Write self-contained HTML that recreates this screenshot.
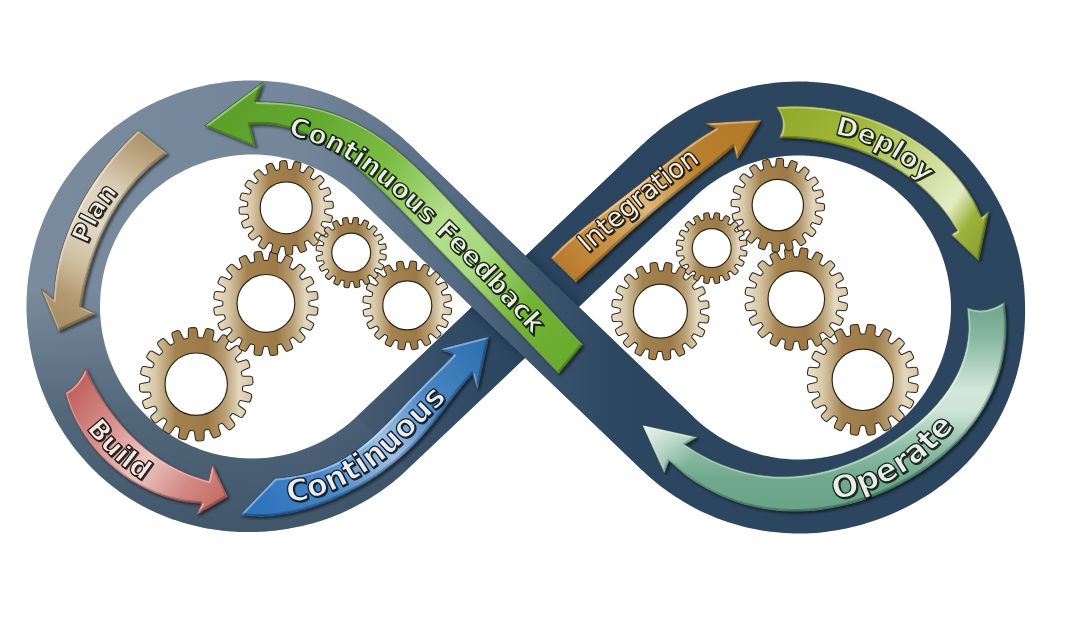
<!DOCTYPE html>
<html lang="en"><head><meta charset="utf-8"><title>DevOps infinity loop</title>
<style>html,body{margin:0;padding:0;background:#fff;width:1068px;height:641px;overflow:hidden}svg{display:block}text{font-family:"DejaVu Sans", "Liberation Sans", sans-serif;font-weight:bold}</style></head><body>
<svg width="1068" height="641" viewBox="0 0 1068 641">
<defs>
<linearGradient id="gBand" gradientUnits="userSpaceOnUse" x1="26" y1="0" x2="640" y2="0"><stop offset="0" stop-color="#7a8b9d"/><stop offset="0.45" stop-color="#73869a"/><stop offset="0.69" stop-color="#566c84"/><stop offset="0.835" stop-color="#3c556d"/><stop offset="0.95" stop-color="#2e4862"/><stop offset="1" stop-color="#2c4660"/></linearGradient>
<linearGradient id="gDark" gradientUnits="userSpaceOnUse" x1="0" y1="290" x2="0" y2="535"><stop offset="0" stop-color="#1c3448" stop-opacity="0"/><stop offset="0.5" stop-color="#1c3448" stop-opacity="0.4"/><stop offset="1" stop-color="#1c3448" stop-opacity="0.6"/></linearGradient>
<linearGradient id="gInt" gradientUnits="userSpaceOnUse" x1="382" y1="443.1" x2="668.8" y2="170.5"><stop offset="0" stop-color="#2b4560" stop-opacity="0.15"/><stop offset="0.3" stop-color="#2b4560" stop-opacity="0.78"/><stop offset="0.5" stop-color="#2b4560" stop-opacity="0.95"/><stop offset="1" stop-color="#2b4560" stop-opacity="1"/></linearGradient>
<linearGradient id="gGear" x1="0" y1="0" x2="1" y2="0"><stop offset="0" stop-color="#ece3cd"/><stop offset="0.14" stop-color="#d7c8a8"/><stop offset="0.32" stop-color="#a3824f"/><stop offset="0.6" stop-color="#9b7a47"/><stop offset="0.75" stop-color="#b89e72"/><stop offset="0.88" stop-color="#e3d8c0"/><stop offset="1" stop-color="#d6c6a4"/></linearGradient>
<path id="a_plan" d="M138.3 130.2 C138.3 130.2 129.1 139.2 124.7 143.8 C120.2 148.6 115.9 153.4 111.8 158.4 C107.7 163.4 103.7 168.5 99.9 173.8 C96.1 179.1 92.4 184.5 89 190 C85.5 195.5 82.3 201.1 79.3 206.9 C76.3 212.6 73.5 218.4 70.9 224.4 C68.4 230.3 66.1 236.4 64.1 242.5 C62 248.6 60.3 254.8 58.8 261.1 C57.3 267.4 56.1 273.8 55.3 280.2 C54.4 286.6 53.7 299.6 53.7 299.6 L41 288.9 L58.4 330.9 L95.8 313.6 L81 307 C81 307 83.2 293.8 84.6 287.3 C86 280.7 87.7 274.2 89.6 267.7 C91.5 261.3 93.6 254.9 96 248.6 C98.3 242.3 101 236.1 103.9 230 C106.7 224 109.9 218.1 113.3 212.3 C116.7 206.6 120.3 201 124.3 195.6 C128.2 190.2 132.4 185 136.9 180 C141.4 175.1 146.2 170.3 151.2 165.9 C156.3 161.5 167.3 153.4 167.3 153.4Z"/><clipPath id="c_plan"><use href="#a_plan"/></clipPath>
<linearGradient id="g_plan" gradientUnits="userSpaceOnUse" x1="152.8" y1="141.8" x2="58.4" y2="330.9"><stop offset="0" stop-color="#ad956b"/><stop offset="0.12" stop-color="#bfab88"/><stop offset="0.3" stop-color="#ded3bc"/><stop offset="0.5" stop-color="#e0d6c2"/><stop offset="0.68" stop-color="#cdbd9e"/><stop offset="0.82" stop-color="#b39c74"/><stop offset="1" stop-color="#a48c62"/></linearGradient>
<path id="a_build" d="M85.9 368.4 C85.9 368.4 90.7 378.8 93.4 383.9 C96.1 389 99 394 102.1 398.9 C105.2 403.7 108.4 408.5 111.8 413.1 C115.3 417.7 118.9 422.2 122.7 426.5 C126.5 430.7 130.4 434.9 134.5 438.8 C138.7 442.8 143 446.5 147.4 450.1 C151.9 453.6 156.5 456.9 161.3 460 C166.1 463.1 171.1 466 176.2 468.6 C181.3 471.2 186.5 473.5 191.9 475.6 C197.4 477.6 208.6 480.9 208.6 480.9 L212.4 464.6 L227.3 496.8 L196.4 514.6 L202.1 503.3 C202.1 503.3 189.7 502.4 183.6 501.3 C177.5 500.2 171.4 498.6 165.5 496.7 C159.6 494.8 153.7 492.4 148.1 489.8 C142.4 487.1 136.9 484.1 131.5 480.7 C126.2 477.4 121.1 473.7 116.2 469.7 C111.3 465.8 106.6 461.5 102.2 457 C97.9 452.5 93.7 447.7 89.9 442.7 C86.1 437.8 82.6 432.5 79.5 427.1 C76.4 421.8 73.6 416.1 71.2 410.4 C68.8 404.7 65.3 392.7 65.3 392.7 Q78.1 386 85.9 368.4Z"/><clipPath id="c_build"><use href="#a_build"/></clipPath>
<linearGradient id="g_build" gradientUnits="userSpaceOnUse" x1="75.6" y1="380.5" x2="227.3" y2="496.8"><stop offset="0" stop-color="#bf5f5b"/><stop offset="0.25" stop-color="#d48a86"/><stop offset="0.55" stop-color="#ecc6c2"/><stop offset="0.8" stop-color="#d28882"/><stop offset="1" stop-color="#c46c66"/></linearGradient>
<path id="a_cont" d="M274.9 478.4 C274.9 478.4 284.5 477.5 289.4 476.8 C294.3 476.1 299.3 475.2 304.2 474 C309.1 472.9 314 471.5 318.8 469.9 C323.6 468.2 328.3 466.3 332.8 464.2 C337.3 462.1 341.7 459.7 346 457.2 C350.2 454.6 354.3 451.8 358.3 448.9 C362.3 445.9 366.2 442.8 369.9 439.6 C373.7 436.3 377.3 432.9 380.9 429.5 C384.4 426 387.9 422.4 391.4 418.9 C394.9 415.3 398.3 411.6 401.7 408 C405.1 404.4 408.6 400.8 412 397.1 C415.4 393.5 418.9 389.9 422.4 386.4 C425.9 382.8 429.4 379.3 432.9 375.8 C436.4 372.2 440 368.8 443.5 365.2 C447 361.7 453.9 354.5 453.9 354.5 L439.9 349 L488.6 336.5 L477.3 389.3 L472.7 373.4 C472.7 373.4 465.7 381.3 462.4 385.4 C459 389.5 455.8 393.8 452.6 398 C449.4 402.2 446.2 406.5 443 410.7 C439.7 414.9 436.5 419.1 433.2 423.2 C429.8 427.3 426.4 431.4 422.9 435.3 C419.4 439.2 415.8 443.1 412 446.8 C408.3 450.5 404.4 454.1 400.5 457.6 C396.5 461 392.4 464.4 388.2 467.5 C384 470.7 379.7 473.8 375.3 476.7 C370.9 479.7 366.3 482.4 361.7 485.1 C357.1 487.7 352.4 490.2 347.6 492.6 C342.9 495 338 497.2 333.1 499.3 C328.2 501.3 323.3 503.3 318.3 505 C313.3 506.8 308.2 508.4 303.1 509.7 C298.1 511.1 292.9 512.4 287.8 513.3 C282.6 514.3 277.5 515.1 272.2 515.6 C267 516 261.7 516.3 256.5 516.1 C251.1 516 240.3 514.6 240.3 514.6Z"/><clipPath id="c_cont"><use href="#a_cont"/></clipPath>
<linearGradient id="g_cont" gradientUnits="userSpaceOnUse" x1="257.6" y1="496.5" x2="488.6" y2="336.5"><stop offset="0" stop-color="#2f74bc"/><stop offset="0.22" stop-color="#4785c6"/><stop offset="0.48" stop-color="#a0c0e2"/><stop offset="0.7" stop-color="#4a86c4"/><stop offset="1" stop-color="#2c6cab"/></linearGradient>
<path id="a_int" d="M551 257.7 C551 257.7 559.1 249.3 563.4 245.3 C567.7 241.3 572.1 237.5 576.5 233.8 C581 230 585.5 226.4 590.1 222.8 C594.7 219.2 599.3 215.6 603.9 212 C608.5 208.5 613.1 204.9 617.7 201.3 C622.3 197.8 626.9 194.2 631.5 190.6 C636.1 187 640.7 183.4 645.3 179.8 C649.8 176.1 654.4 172.5 658.9 168.8 C663.5 165.2 668.1 161.6 672.7 158 C677.3 154.5 681.9 150.9 686.6 147.5 C691.3 144 696 140.6 700.9 137.5 C705.8 134.3 715.9 128.4 715.9 128.4 L705.2 123.3 L760.8 120 L737 158.9 L733.9 146.2 C733.9 146.2 724.3 154.4 719.5 158.4 C714.6 162.4 709.7 166.4 704.7 170.3 C699.8 174.3 694.8 178.2 689.9 182.1 C685 186.1 680 190 675.1 194 C670.2 198 665.3 202 660.5 206 C655.6 210 650.8 214.1 646 218.3 C641.2 222.4 636.4 226.5 631.7 230.7 C627 235 622.3 239.2 617.6 243.5 C613 247.7 608.4 252.1 603.7 256.4 C599.1 260.7 594.5 265 589.8 269.3 C585.2 273.6 575.9 282.1 575.9 282.1Z"/><clipPath id="c_int"><use href="#a_int"/></clipPath>
<linearGradient id="g_int" gradientUnits="userSpaceOnUse" x1="563.5" y1="269.9" x2="760.8" y2="120"><stop offset="0" stop-color="#b87a2a"/><stop offset="0.22" stop-color="#c8934a"/><stop offset="0.42" stop-color="#dcb87c"/><stop offset="0.68" stop-color="#b98030"/><stop offset="1" stop-color="#b27828"/></linearGradient>
<path id="a_dep" d="M776.4 106.9 C776.4 106.9 788.9 106.2 795.2 106.2 C801.5 106.2 807.9 106.5 814.2 107.1 C820.6 107.6 827 108.4 833.3 109.5 C839.6 110.6 846 111.9 852.2 113.5 C858.4 115.1 864.6 117 870.7 119.1 C876.8 121.2 882.8 123.5 888.7 126.2 C894.5 128.8 900.3 131.6 905.8 134.7 C911.4 137.9 916.8 141.2 922 144.8 C927.2 148.5 932.3 152.3 937.1 156.4 C941.9 160.5 946.5 164.9 950.8 169.5 C955.1 174.1 959.1 178.9 962.9 184 C966.6 189.1 970.1 194.4 973.2 200 C976.4 205.6 981.6 217.4 981.6 217.4 L988.6 211.2 L978.5 260.3 L951.2 234.6 L957.4 230.7 C957.4 230.7 951.6 221.3 948.4 216.8 C945.2 212.4 941.9 208.1 938.3 204.1 C934.8 200 931 196.1 927.1 192.4 C923.2 188.7 919.2 185.1 915 181.8 C910.8 178.5 906.5 175.3 902 172.3 C897.6 169.4 893 166.6 888.3 164 C883.6 161.4 878.8 159 873.9 156.8 C869 154.6 864 152.6 858.9 150.7 C853.9 148.9 848.7 147.3 843.5 145.8 C838.3 144.4 833 143.1 827.7 142.1 C822.4 141 817.1 140.1 811.7 139.5 C806.3 138.8 800.9 138.3 795.5 138.1 C790.1 137.8 779.2 137.8 779.2 137.8 Q787.8 122.6 776.4 106.9Z"/><clipPath id="c_dep"><use href="#a_dep"/></clipPath>
<linearGradient id="g_dep" gradientUnits="userSpaceOnUse" x1="777.8" y1="122.4" x2="978.5" y2="260.3"><stop offset="0" stop-color="#93a92b"/><stop offset="0.3" stop-color="#a1b83c"/><stop offset="0.6" stop-color="#cddc98"/><stop offset="0.78" stop-color="#e2ecc4"/><stop offset="0.88" stop-color="#9cb23c"/><stop offset="1" stop-color="#86a030"/></linearGradient>
<path id="a_op" d="M1004.2 302.2 C1004.2 302.2 1005.9 317.9 1005.9 325.8 C1005.9 333.7 1005.4 341.8 1004.2 349.6 C1003.1 357.4 1001.4 365.2 999.2 372.7 C996.9 380.2 994.1 387.6 990.8 394.7 C987.4 401.7 983.6 408.6 979.3 415.1 C975 421.6 970.2 427.8 965.1 433.7 C959.9 439.7 954.4 445.3 948.5 450.6 C942.7 455.9 936.5 460.8 930.1 465.5 C923.6 470.2 916.9 474.5 910.1 478.5 C903.2 482.5 896.1 486.2 888.9 489.5 C881.7 492.8 874.3 495.8 866.8 498.4 C859.4 501 851.8 503.3 844.1 505.1 C836.5 507 828.7 508.4 821 509.4 C813.3 510.4 805.4 511 797.7 511.1 C789.9 511.2 782 510.8 774.3 509.9 C766.5 509.1 758.7 507.7 751.1 505.8 C743.5 504 735.8 501.6 728.5 498.7 C721.1 495.8 713.7 492.4 706.8 488.5 C699.8 484.7 693 480.4 686.6 475.7 C680.4 471 669 460.6 669 460.6 L664.3 472.7 L642.8 425.4 L697.1 437.2 L684.6 444.6 C684.6 444.6 696.2 452 702.3 455.3 C708.6 458.7 715.2 461.9 721.9 464.6 C728.7 467.3 735.6 469.6 742.6 471.4 C749.6 473.2 756.7 474.6 763.8 475.4 C770.8 476.3 777.9 476.7 784.9 476.6 C792 476.5 799 475.9 806 474.9 C812.9 473.9 819.8 472.5 826.7 470.7 C833.5 469 840.3 466.8 846.9 464.3 C853.6 461.8 860.2 459 866.7 455.9 C873.1 452.8 879.5 449.4 885.7 445.8 C891.9 442.1 897.9 438.2 903.7 434 C909.5 429.8 915.2 425.4 920.5 420.6 C925.8 415.9 930.9 410.9 935.6 405.7 C940.2 400.4 944.6 394.9 948.5 389.1 C952.3 383.2 955.8 377.1 958.7 370.8 C961.5 364.4 963.9 357.7 965.5 350.9 C967.2 344 968.2 336.9 968.5 329.7 C968.8 322.5 967.1 307.8 967.1 307.8 Q985.5 315 1004.2 302.2Z"/><clipPath id="c_op"><use href="#a_op"/></clipPath>
<linearGradient id="g_op" gradientUnits="userSpaceOnUse" x1="0" y1="300" x2="0" y2="512"><stop offset="0" stop-color="#6ba388"/><stop offset="0.18" stop-color="#88b8a0"/><stop offset="0.42" stop-color="#d2e6dc"/><stop offset="0.52" stop-color="#cfe4d9"/><stop offset="0.7" stop-color="#8cbca4"/><stop offset="0.85" stop-color="#6fa88d"/><stop offset="1" stop-color="#68a388"/></linearGradient>
<path id="a_fb" d="M558.8 373.2 C558.8 373.2 549.7 364 545.2 359.4 C540.7 354.7 536.2 350.1 531.8 345.4 C527.3 340.7 522.9 336 518.4 331.4 C514 326.7 509.5 322 505 317.4 C500.5 312.7 496 308.1 491.5 303.4 C487 298.8 482.5 294.2 478 289.6 C473.5 284.9 468.9 280.3 464.4 275.7 C459.9 271.1 455.4 266.4 450.9 261.8 C446.4 257.1 441.9 252.5 437.4 247.9 C433 243.2 428.5 238.5 424 233.9 C419.6 229.2 415.1 224.5 410.7 219.9 C406.2 215.2 401.7 210.6 397.2 206 C392.7 201.3 388.1 196.7 383.5 192.2 C378.9 187.7 374.3 183.1 369.5 178.8 C364.8 174.4 360 170 355 165.9 C350 161.8 345 157.7 339.7 154 C334.5 150.2 329.1 146.6 323.6 143.3 C318.1 140 312.4 137 306.5 134.4 C300.6 131.8 294.6 129.5 288.4 127.8 C282.2 126.1 275.8 124.8 269.3 124.2 C262.8 123.6 249.6 124.3 249.6 124.3 L255.2 146.4 L204.6 125.8 L262.7 82.2 L255.9 101.8 C255.9 101.8 268.4 102 274.7 102.4 C281.1 102.8 287.6 103.4 294 104.2 C300.4 105.1 306.8 106.2 313.1 107.7 C319.3 109.1 325.6 110.8 331.6 112.9 C337.7 114.9 343.6 117.3 349.4 120 C355.2 122.6 360.8 125.6 366.3 128.8 C371.7 132 377 135.5 382.2 139.1 C387.4 142.8 392.5 146.7 397.4 150.7 C402.3 154.7 407.1 158.9 411.8 163.3 C416.5 167.6 421.1 172 425.7 176.5 C430.3 181 434.7 185.6 439.1 190.3 C443.6 194.9 448 199.6 452.3 204.2 C456.7 208.9 461 213.6 465.3 218.3 C469.7 223 474 227.7 478.3 232.4 C482.6 237.1 486.9 241.8 491.3 246.4 C495.6 251.1 499.9 255.8 504.3 260.4 C508.6 265.1 513 269.7 517.3 274.4 C521.7 279.1 526.1 283.7 530.4 288.4 C534.8 293.1 539.1 297.8 543.5 302.5 C547.9 307.1 552.2 311.9 556.6 316.6 C560.9 321.3 565.2 326 569.6 330.7 C573.9 335.3 582.6 344.6 582.6 344.6Z"/><clipPath id="c_fb"><use href="#a_fb"/></clipPath>
<linearGradient id="g_fb" gradientUnits="userSpaceOnUse" x1="570.7" y1="358.9" x2="204.6" y2="125.8"><stop offset="0" stop-color="#6aac2e"/><stop offset="0.15" stop-color="#72b236"/><stop offset="0.3" stop-color="#a8d880"/><stop offset="0.42" stop-color="#b4de8c"/><stop offset="0.6" stop-color="#7cbc44"/><stop offset="0.8" stop-color="#62a830"/><stop offset="1" stop-color="#5c9e2a"/></linearGradient>
<filter id="sh" x="-20%" y="-20%" width="140%" height="140%"><feGaussianBlur in="SourceAlpha" stdDeviation="1.6"/><feOffset dx="1.5" dy="2"/><feComponentTransfer><feFuncA type="linear" slope="0.55"/></feComponentTransfer><feMerge><feMergeNode/><feMergeNode in="SourceGraphic"/></feMerge></filter>
<filter id="tsh" x="-5%" y="-20%" width="110%" height="140%"><feMorphology in="SourceAlpha" operator="dilate" radius="0.25" result="d"/><feOffset in="d" dx="0.8" dy="0.9" result="o"/><feFlood flood-color="#0c140c" flood-opacity="0.85"/><feComposite in2="o" operator="in"/><feMerge><feMergeNode/><feMergeNode in="SourceGraphic"/></feMerge></filter>
<filter id="blur6" x="-30%" y="-30%" width="160%" height="160%"><feGaussianBlur stdDeviation="6"/></filter>
<filter id="shT" x="-10%" y="-30%" width="120%" height="160%"><feGaussianBlur in="SourceAlpha" stdDeviation="0.7"/><feOffset dx="0.8" dy="1"/><feComponentTransfer><feFuncA type="linear" slope="0.6"/></feComponentTransfer><feMerge><feMergeNode/><feMergeNode in="SourceGraphic"/></feMerge></filter>
<path id="t_plan" d="M86.6 245.8 L88.9 239.8 L91.5 233.9 L94.2 228 L97.2 222.3 L100.4 216.7 L103.7 211.2 L107.3 205.8 L111.1 200.6 L115 195.5 L119.2 190.5"/>
<path id="t_build" d="M83.3 424.2 L87.6 430.1 L92.1 435.9 L96.8 441.5 L101.8 446.9 L106.9 452.2 L112.2 457.3 L117.6 462.2 L123.3 466.8 L129.1 471.3 L135.1 475.6 L141.2 479.7 L147.4 483.5"/>
<path id="t_dep" d="M834.9 134.2 L841.2 135.6 L847.4 137.2 L853.5 139.1 L859.6 141.2 L865.6 143.5 L871.5 146 L877.3 148.8 L883 151.7 L888.7 154.9 L894.1 158.2 L899.5 161.8 L904.7 165.5 L909.8 169.5 L914.7 173.6 L919.5 177.9 L924.2 182.3"/>
<path id="t_op" d="M830.3 500.5 L837.1 499.3 L843.9 497.8 L850.6 496.1 L857.3 494.1 L863.9 491.9 L870.4 489.5 L876.8 486.8 L883.1 484 L889.4 480.9 L895.5 477.5 L901.4 474 L907.3 470.3 L913 466.3 L918.6 462.2 L924 457.8 L929.3 453.3 L934.4 448.6 L939.3 443.7 L944 438.6 L948.6 433.4 L953 428 L957.2 422.4"/>
<path id="t_cont" d="M285.5 502.5 C285.5 502.5 301.9 500.6 310 498.5 C318.4 496.3 326.8 493.2 335 489.5 C343.5 485.7 351.8 481.1 360 476 C368.5 470.8 376.9 465 385 458.5 C393.6 451.6 400.8 444.3 410 435.5 C421.7 424.3 449 396.5 449 396.5"/>
<path id="t_int" d="M581 258.7 C581 258.7 623.3 221.7 641.5 206.7 C656.1 194.7 669.5 184.3 681.5 175.2 C691 168 707.5 156.2 707.5 156.2"/>
<path id="t_fb" d="M283.5 133.7 C283.5 133.7 298.4 137.3 306 139.9 C314 142.7 322.3 146 330.3 150 C338.7 154.2 347 159.2 355.2 164.6 C363.7 170.2 371.9 176.5 380.1 183.1 C388.7 190 395.4 195.8 405.6 205.1 C421.7 219.8 445.9 242.6 466.6 263.6 C489.3 286.6 535.8 337.8 535.8 337.8"/>
<clipPath id="clipIn"><path d="M356.8 416.6 L643.1 143.9 L694.4 197.2 L407.2 469.6Z"/></clipPath>
</defs>
<rect width="1068" height="641" fill="#fff"/>
<path fill-rule="evenodd" fill="url(#gBand)" d="M408.1 143.2 L404.2 139.6 L400.3 136.1 L396.3 132.7 L392.2 129.4 L388.1 126.2 L383.8 123.1 L379.5 120 L375.2 117.1 L370.7 114.3 L366.2 111.6 L361.7 109 L357 106.5 L352.3 104.1 L347.6 101.8 L342.8 99.6 L338 97.5 L333.1 95.6 L328.2 93.8 L323.2 92 L318.2 90.4 L313.1 88.9 L308.1 87.6 L303 86.3 L297.8 85.2 L292.7 84.2 L287.5 83.3 L282.3 82.5 L277 81.9 L271.8 81.4 L266.6 81 L261.3 80.7 L256.1 80.5 L250.8 80.5 L245.5 80.6 L240.3 80.8 L235 81.1 L229.8 81.6 L224.6 82.2 L219.4 82.9 L214.2 83.7 L209 84.6 L203.8 85.7 L198.7 86.9 L193.6 88.2 L188.6 89.6 L183.5 91.1 L178.5 92.8 L173.6 94.6 L168.7 96.5 L163.8 98.5 L159 100.6 L154.2 102.8 L149.5 105.1 L144.9 107.6 L140.3 110.1 L135.7 112.8 L131.2 115.6 L126.8 118.4 L122.5 121.4 L118.2 124.5 L114 127.6 L109.9 130.9 L105.9 134.3 L101.9 137.7 L98 141.3 L94.2 144.9 L90.5 148.6 L86.9 152.4 L83.3 156.3 L79.9 160.3 L76.5 164.4 L73.3 168.5 L70.1 172.7 L67.1 177 L64.1 181.3 L61.2 185.7 L58.5 190.2 L55.8 194.8 L53.3 199.4 L50.9 204 L48.5 208.7 L46.3 213.5 L44.2 218.3 L42.2 223.2 L40.4 228.1 L38.6 233.1 L37 238.1 L35.4 243.1 L34 248.2 L32.8 253.3 L31.6 258.4 L30.5 263.6 L29.6 268.7 L28.8 273.9 L28.1 279.1 L27.5 284.4 L27.1 289.6 L26.8 294.9 L26.6 300.1 L26.5 305.4 L26.5 310.6 L26.7 315.9 L27 321.1 L27.4 326.4 L28 331.6 L28.6 336.8 L29.4 342.1 L30.2 347.2 L31.2 352.4 L32.3 357.6 L33.5 362.7 L34.8 367.8 L36.3 372.8 L37.8 377.9 L39.5 382.9 L41.2 387.9 L43.1 392.8 L45.1 397.7 L47.2 402.5 L49.4 407.3 L51.8 412.1 L54.2 416.7 L56.7 421.4 L59.4 426 L62.2 430.5 L65 434.9 L68 439.3 L71.1 443.6 L74.3 447.9 L77.6 452 L81 456.1 L84.5 460.1 L88 464 L91.7 467.8 L95.5 471.6 L99.4 475.2 L103.3 478.8 L107.4 482.2 L111.5 485.6 L115.7 488.8 L120 491.9 L124.4 495 L128.9 497.9 L133.4 500.7 L138 503.4 L142.6 505.9 L147.3 508.4 L152.1 510.7 L156.9 513 L161.8 515.1 L166.7 517 L171.7 518.9 L176.7 520.6 L181.8 522.2 L186.9 523.7 L192 525.1 L197.1 526.3 L202.3 527.5 L207.5 528.4 L212.7 529.3 L218 530.1 L223.2 530.7 L228.5 531.2 L233.7 531.6 L239 531.9 L244.3 532 L249.6 532 L254.8 532 L260.1 531.7 L265.4 531.4 L270.6 531 L275.8 530.4 L281.1 529.8 L286.3 529 L291.5 528.1 L296.6 527.1 L301.8 526 L306.9 524.7 L312 523.4 L317 521.9 L322 520.4 L327 518.7 L331.9 516.9 L336.8 514.9 L341.7 512.9 L346.5 510.7 L351.2 508.5 L355.9 506.1 L360.6 503.6 L365.2 501.1 L369.7 498.4 L374.1 495.6 L378.5 492.7 L382.8 489.7 L387.1 486.6 L391.3 483.4 L395.4 480.1 L399.4 476.7 L403.3 473.2 L407.2 469.6 L578.8 306.9Z M357.2 196.8 L354 193.8 L350.7 190.9 L347.3 188 L343.8 185.3 L340.2 182.7 L336.5 180.2 L332.8 177.8 L329 175.5 L325.2 173.3 L321.3 171.2 L317.3 169.2 L313.2 167.4 L309.2 165.7 L305 164 L300.8 162.6 L296.6 161.2 L292.4 160 L288.1 158.8 L283.8 157.9 L279.4 157 L275 156.3 L270.6 155.6 L266.2 155.2 L261.8 154.8 L257.4 154.6 L253 154.5 L248.5 154.5 L244.1 154.7 L239.7 155 L235.3 155.4 L230.9 156 L226.5 156.7 L222.1 157.5 L217.8 158.4 L213.5 159.5 L209.2 160.6 L205 162 L200.8 163.4 L196.6 164.9 L192.5 166.6 L188.5 168.4 L184.5 170.3 L180.5 172.4 L176.6 174.5 L172.8 176.8 L169.1 179.1 L165.4 181.6 L161.8 184.2 L158.2 186.9 L154.8 189.6 L151.4 192.5 L148.2 195.5 L145 198.6 L141.9 201.8 L138.8 205 L135.9 208.4 L133.1 211.8 L130.4 215.3 L127.8 218.9 L125.3 222.5 L122.9 226.3 L120.6 230.1 L118.4 233.9 L116.4 237.9 L114.4 241.8 L112.6 245.9 L110.9 250 L109.3 254.1 L107.8 258.3 L106.5 262.5 L105.3 266.8 L104.2 271.1 L103.2 275.4 L102.4 279.8 L101.7 284.1 L101.1 288.5 L100.6 292.9 L100.3 297.4 L100.1 301.8 L100 306.2 L100.1 310.7 L100.2 315.1 L100.6 319.5 L101 323.9 L101.6 328.3 L102.3 332.7 L103.1 337.1 L104.1 341.4 L105.1 345.7 L106.3 349.9 L107.7 354.2 L109.1 358.4 L110.7 362.5 L112.4 366.6 L114.2 370.7 L116.1 374.6 L118.2 378.6 L120.3 382.5 L122.6 386.3 L125 390 L127.5 393.7 L130.1 397.3 L132.8 400.8 L135.6 404.2 L138.5 407.6 L141.5 410.8 L144.6 414 L147.7 417.1 L151 420.1 L154.4 423 L157.8 425.8 L161.3 428.5 L164.9 431.1 L168.6 433.6 L172.3 436 L176.2 438.2 L180 440.4 L184 442.4 L188 444.3 L192 446.2 L196.1 447.8 L200.2 449.4 L204.4 450.9 L208.7 452.2 L212.9 453.4 L217.2 454.5 L221.6 455.4 L225.9 456.2 L230.3 456.9 L234.7 457.5 L239.1 458 L243.5 458.3 L248 458.4 L252.4 458.5 L256.8 458.4 L261.3 458.2 L265.7 457.9 L270.1 457.4 L274.5 456.8 L278.9 456.1 L283.2 455.3 L287.5 454.3 L291.8 453.2 L296.1 452 L300.3 450.6 L304.5 449.1 L308.6 447.6 L312.7 445.8 L316.8 444 L320.8 442.1 L324.7 440 L328.5 437.8 L332.3 435.5 L336.1 433.1 L339.7 430.6 L343.3 428 L346.8 425.3 L350.2 422.5 L353.6 419.6 L356.8 416.6 L472 306.9Z"/>
<path fill-rule="evenodd" fill="url(#gBand)" d="M643.1 143.9 L647 140.3 L650.9 136.8 L655 133.4 L659.1 130 L663.2 126.8 L667.5 123.7 L671.8 120.7 L676.2 117.8 L680.7 115 L685.2 112.2 L689.8 109.6 L694.4 107.1 L699.1 104.8 L703.9 102.5 L708.7 100.3 L713.6 98.3 L718.5 96.3 L723.4 94.5 L728.4 92.8 L733.4 91.2 L738.5 89.7 L743.6 88.4 L748.7 87.2 L753.9 86.1 L759.1 85.1 L764.3 84.2 L769.5 83.4 L774.7 82.8 L780 82.3 L785.2 81.9 L790.5 81.7 L795.8 81.5 L801 81.5 L806.3 81.6 L811.6 81.9 L816.8 82.2 L822.1 82.7 L827.3 83.3 L832.6 84 L837.8 84.8 L843 85.8 L848.1 86.9 L853.2 88.1 L858.4 89.4 L863.4 90.9 L868.5 92.4 L873.5 94.1 L878.4 95.9 L883.3 97.8 L888.2 99.9 L893 102 L897.8 104.2 L902.5 106.6 L907.2 109.1 L911.8 111.6 L916.3 114.3 L920.8 117.1 L925.2 120 L929.5 123 L933.8 126.1 L938 129.3 L942.1 132.6 L946.2 136 L950.1 139.5 L954 143 L957.8 146.7 L961.5 150.4 L965.1 154.3 L968.7 158.2 L972.1 162.2 L975.4 166.3 L978.7 170.4 L981.8 174.7 L984.9 179 L987.8 183.3 L990.7 187.8 L993.4 192.3 L996.1 196.9 L998.6 201.5 L1001 206.2 L1003.3 210.9 L1005.5 215.7 L1007.6 220.6 L1009.6 225.4 L1011.4 230.4 L1013.2 235.4 L1014.8 240.4 L1016.3 245.4 L1017.7 250.5 L1019 255.6 L1020.1 260.8 L1021.1 266 L1022.1 271.2 L1022.8 276.4 L1023.5 281.6 L1024.1 286.8 L1024.5 292.1 L1024.8 297.4 L1025 302.6 L1025.1 307.9 L1025.1 313.2 L1025 318.5 L1024.8 323.7 L1024.5 329 L1024 334.3 L1023.5 339.6 L1022.8 344.8 L1022 350 L1021.1 355.3 L1020.1 360.5 L1018.9 365.7 L1017.7 370.8 L1016.3 376 L1014.8 381.1 L1013.1 386.1 L1011.4 391.1 L1009.5 396.1 L1007.5 401.1 L1005.3 406 L1003.1 410.8 L1000.7 415.6 L998.2 420.3 L995.5 424.9 L992.8 429.5 L989.9 434 L986.9 438.4 L983.8 442.8 L980.5 447 L977.2 451.2 L973.8 455.3 L970.2 459.3 L966.6 463.2 L962.8 467 L959 470.7 L955 474.3 L951 477.8 L946.9 481.2 L942.7 484.5 L938.5 487.6 L934.1 490.7 L929.7 493.7 L925.3 496.6 L920.7 499.3 L916.1 502 L911.5 504.5 L906.8 507 L902.1 509.3 L897.3 511.6 L892.4 513.7 L887.6 515.7 L882.6 517.7 L877.7 519.5 L872.7 521.2 L867.7 522.8 L862.6 524.4 L857.6 525.8 L852.4 527.1 L847.3 528.3 L842.1 529.3 L837 530.3 L831.7 531.1 L826.5 531.8 L821.3 532.4 L816 532.9 L810.8 533.2 L805.5 533.4 L800.2 533.5 L794.9 533.5 L789.7 533.3 L784.4 533 L779.1 532.6 L773.9 532.1 L768.7 531.5 L763.4 530.7 L758.2 529.8 L753.1 528.8 L747.9 527.7 L742.8 526.4 L737.7 525 L732.6 523.5 L727.6 521.9 L722.6 520.2 L717.7 518.4 L712.8 516.4 L707.9 514.3 L703.1 512.2 L698.4 509.9 L693.7 507.5 L689.1 505 L684.5 502.3 L680 499.6 L675.5 496.8 L671.1 493.8 L666.8 490.8 L662.6 487.7 L658.4 484.4 L654.3 481.1 L650.3 477.7 L646.4 474.2 L642.5 470.6 L472 306.9Z M694.4 197.2 L697.7 194.2 L701 191.3 L704.4 188.5 L707.9 185.8 L711.5 183.2 L715.2 180.7 L718.9 178.3 L722.7 176 L726.6 173.9 L730.5 171.8 L734.5 169.9 L738.5 168 L742.6 166.3 L746.8 164.8 L751 163.3 L755.2 162 L759.4 160.7 L763.7 159.6 L768.1 158.7 L772.4 157.8 L776.8 157.1 L781.2 156.5 L785.6 156.1 L790 155.8 L794.4 155.6 L798.9 155.5 L803.3 155.6 L807.7 155.8 L812.1 156.1 L816.6 156.5 L820.9 157.1 L825.3 157.8 L829.7 158.6 L834 159.6 L838.3 160.7 L842.6 161.9 L846.8 163.2 L851 164.7 L855.1 166.2 L859.2 167.9 L863.3 169.7 L867.2 171.7 L871.2 173.7 L875 175.9 L878.8 178.2 L882.6 180.5 L886.3 183 L889.8 185.6 L893.4 188.3 L896.8 191.1 L900.1 194 L903.4 197 L906.6 200.1 L909.7 203.3 L912.7 206.6 L915.5 209.9 L918.3 213.4 L921 216.9 L923.6 220.5 L926.1 224.2 L928.5 227.9 L930.8 231.7 L932.9 235.6 L934.9 239.5 L936.9 243.5 L938.7 247.5 L940.4 251.6 L941.9 255.8 L943.4 260 L944.7 264.2 L945.9 268.5 L947 272.8 L947.9 277.1 L948.8 281.5 L949.4 285.8 L950 290.2 L950.5 294.6 L950.8 299.1 L950.9 303.5 L951 307.9 L950.9 312.3 L950.7 316.8 L950.4 321.2 L949.9 325.6 L949.3 330 L948.6 334.4 L947.8 338.7 L946.8 343 L945.7 347.3 L944.5 351.6 L943.1 355.8 L941.6 360 L940.1 364.1 L938.3 368.2 L936.5 372.3 L934.6 376.2 L932.5 380.2 L930.3 384 L928 387.8 L925.7 391.5 L923.1 395.2 L920.5 398.8 L917.8 402.3 L915 405.7 L912.1 409 L909.1 412.3 L906 415.5 L902.8 418.5 L899.5 421.5 L896.1 424.4 L892.7 427.2 L889.2 429.9 L885.6 432.4 L881.9 434.9 L878.1 437.3 L874.3 439.5 L870.4 441.7 L866.5 443.7 L862.5 445.6 L858.4 447.4 L854.3 449.1 L850.2 450.6 L846 452.1 L841.8 453.4 L837.5 454.5 L833.2 455.6 L828.9 456.5 L824.5 457.3 L820.1 458 L815.7 458.6 L811.3 459 L806.9 459.3 L802.5 459.5 L798 459.5 L793.6 459.4 L789.2 459.2 L784.8 458.8 L780.4 458.4 L776 457.7 L771.6 457 L767.2 456.1 L762.9 455.2 L758.6 454 L754.4 452.8 L750.2 451.4 L746 450 L741.9 448.4 L737.8 446.6 L733.7 444.8 L729.8 442.8 L725.9 440.7 L722 438.6 L718.2 436.3 L714.5 433.8 L710.9 431.3 L707.3 428.7 L703.8 426 L700.4 423.2 L697 420.2 L693.8 417.2 L578.8 306.9Z"/>
<path fill-rule="evenodd" fill="url(#gDark)" d="M408.1 143.2 L404.2 139.6 L400.3 136.1 L396.3 132.7 L392.2 129.4 L388.1 126.2 L383.8 123.1 L379.5 120 L375.2 117.1 L370.7 114.3 L366.2 111.6 L361.7 109 L357 106.5 L352.3 104.1 L347.6 101.8 L342.8 99.6 L338 97.5 L333.1 95.6 L328.2 93.8 L323.2 92 L318.2 90.4 L313.1 88.9 L308.1 87.6 L303 86.3 L297.8 85.2 L292.7 84.2 L287.5 83.3 L282.3 82.5 L277 81.9 L271.8 81.4 L266.6 81 L261.3 80.7 L256.1 80.5 L250.8 80.5 L245.5 80.6 L240.3 80.8 L235 81.1 L229.8 81.6 L224.6 82.2 L219.4 82.9 L214.2 83.7 L209 84.6 L203.8 85.7 L198.7 86.9 L193.6 88.2 L188.6 89.6 L183.5 91.1 L178.5 92.8 L173.6 94.6 L168.7 96.5 L163.8 98.5 L159 100.6 L154.2 102.8 L149.5 105.1 L144.9 107.6 L140.3 110.1 L135.7 112.8 L131.2 115.6 L126.8 118.4 L122.5 121.4 L118.2 124.5 L114 127.6 L109.9 130.9 L105.9 134.3 L101.9 137.7 L98 141.3 L94.2 144.9 L90.5 148.6 L86.9 152.4 L83.3 156.3 L79.9 160.3 L76.5 164.4 L73.3 168.5 L70.1 172.7 L67.1 177 L64.1 181.3 L61.2 185.7 L58.5 190.2 L55.8 194.8 L53.3 199.4 L50.9 204 L48.5 208.7 L46.3 213.5 L44.2 218.3 L42.2 223.2 L40.4 228.1 L38.6 233.1 L37 238.1 L35.4 243.1 L34 248.2 L32.8 253.3 L31.6 258.4 L30.5 263.6 L29.6 268.7 L28.8 273.9 L28.1 279.1 L27.5 284.4 L27.1 289.6 L26.8 294.9 L26.6 300.1 L26.5 305.4 L26.5 310.6 L26.7 315.9 L27 321.1 L27.4 326.4 L28 331.6 L28.6 336.8 L29.4 342.1 L30.2 347.2 L31.2 352.4 L32.3 357.6 L33.5 362.7 L34.8 367.8 L36.3 372.8 L37.8 377.9 L39.5 382.9 L41.2 387.9 L43.1 392.8 L45.1 397.7 L47.2 402.5 L49.4 407.3 L51.8 412.1 L54.2 416.7 L56.7 421.4 L59.4 426 L62.2 430.5 L65 434.9 L68 439.3 L71.1 443.6 L74.3 447.9 L77.6 452 L81 456.1 L84.5 460.1 L88 464 L91.7 467.8 L95.5 471.6 L99.4 475.2 L103.3 478.8 L107.4 482.2 L111.5 485.6 L115.7 488.8 L120 491.9 L124.4 495 L128.9 497.9 L133.4 500.7 L138 503.4 L142.6 505.9 L147.3 508.4 L152.1 510.7 L156.9 513 L161.8 515.1 L166.7 517 L171.7 518.9 L176.7 520.6 L181.8 522.2 L186.9 523.7 L192 525.1 L197.1 526.3 L202.3 527.5 L207.5 528.4 L212.7 529.3 L218 530.1 L223.2 530.7 L228.5 531.2 L233.7 531.6 L239 531.9 L244.3 532 L249.6 532 L254.8 532 L260.1 531.7 L265.4 531.4 L270.6 531 L275.8 530.4 L281.1 529.8 L286.3 529 L291.5 528.1 L296.6 527.1 L301.8 526 L306.9 524.7 L312 523.4 L317 521.9 L322 520.4 L327 518.7 L331.9 516.9 L336.8 514.9 L341.7 512.9 L346.5 510.7 L351.2 508.5 L355.9 506.1 L360.6 503.6 L365.2 501.1 L369.7 498.4 L374.1 495.6 L378.5 492.7 L382.8 489.7 L387.1 486.6 L391.3 483.4 L395.4 480.1 L399.4 476.7 L403.3 473.2 L407.2 469.6 L578.8 306.9Z M357.2 196.8 L354 193.8 L350.7 190.9 L347.3 188 L343.8 185.3 L340.2 182.7 L336.5 180.2 L332.8 177.8 L329 175.5 L325.2 173.3 L321.3 171.2 L317.3 169.2 L313.2 167.4 L309.2 165.7 L305 164 L300.8 162.6 L296.6 161.2 L292.4 160 L288.1 158.8 L283.8 157.9 L279.4 157 L275 156.3 L270.6 155.6 L266.2 155.2 L261.8 154.8 L257.4 154.6 L253 154.5 L248.5 154.5 L244.1 154.7 L239.7 155 L235.3 155.4 L230.9 156 L226.5 156.7 L222.1 157.5 L217.8 158.4 L213.5 159.5 L209.2 160.6 L205 162 L200.8 163.4 L196.6 164.9 L192.5 166.6 L188.5 168.4 L184.5 170.3 L180.5 172.4 L176.6 174.5 L172.8 176.8 L169.1 179.1 L165.4 181.6 L161.8 184.2 L158.2 186.9 L154.8 189.6 L151.4 192.5 L148.2 195.5 L145 198.6 L141.9 201.8 L138.8 205 L135.9 208.4 L133.1 211.8 L130.4 215.3 L127.8 218.9 L125.3 222.5 L122.9 226.3 L120.6 230.1 L118.4 233.9 L116.4 237.9 L114.4 241.8 L112.6 245.9 L110.9 250 L109.3 254.1 L107.8 258.3 L106.5 262.5 L105.3 266.8 L104.2 271.1 L103.2 275.4 L102.4 279.8 L101.7 284.1 L101.1 288.5 L100.6 292.9 L100.3 297.4 L100.1 301.8 L100 306.2 L100.1 310.7 L100.2 315.1 L100.6 319.5 L101 323.9 L101.6 328.3 L102.3 332.7 L103.1 337.1 L104.1 341.4 L105.1 345.7 L106.3 349.9 L107.7 354.2 L109.1 358.4 L110.7 362.5 L112.4 366.6 L114.2 370.7 L116.1 374.6 L118.2 378.6 L120.3 382.5 L122.6 386.3 L125 390 L127.5 393.7 L130.1 397.3 L132.8 400.8 L135.6 404.2 L138.5 407.6 L141.5 410.8 L144.6 414 L147.7 417.1 L151 420.1 L154.4 423 L157.8 425.8 L161.3 428.5 L164.9 431.1 L168.6 433.6 L172.3 436 L176.2 438.2 L180 440.4 L184 442.4 L188 444.3 L192 446.2 L196.1 447.8 L200.2 449.4 L204.4 450.9 L208.7 452.2 L212.9 453.4 L217.2 454.5 L221.6 455.4 L225.9 456.2 L230.3 456.9 L234.7 457.5 L239.1 458 L243.5 458.3 L248 458.4 L252.4 458.5 L256.8 458.4 L261.3 458.2 L265.7 457.9 L270.1 457.4 L274.5 456.8 L278.9 456.1 L283.2 455.3 L287.5 454.3 L291.8 453.2 L296.1 452 L300.3 450.6 L304.5 449.1 L308.6 447.6 L312.7 445.8 L316.8 444 L320.8 442.1 L324.7 440 L328.5 437.8 L332.3 435.5 L336.1 433.1 L339.7 430.6 L343.3 428 L346.8 425.3 L350.2 422.5 L353.6 419.6 L356.8 416.6 L472 306.9Z"/>
<path d="M356.8 416.6 L643.1 143.9 L694.4 197.2 L407.2 469.6Z" fill="url(#gInt)"/>
<use href="#a_cont" fill="url(#g_cont)" stroke="#1d4a7c" stroke-width="0.9" stroke-linejoin="round" filter="url(#sh)"/>
<g clip-path="url(#c_cont)" fill="none" stroke-width="2.2" stroke-linejoin="round"><use href="#a_cont" transform="translate(0.9 1)" stroke="#fff" stroke-opacity="0.38"/><use href="#a_cont" transform="translate(-0.9 -1)" stroke="#000" stroke-opacity="0.22"/></g>
<use href="#a_int" fill="url(#g_int)" stroke="#7a4c14" stroke-width="0.9" stroke-linejoin="round" filter="url(#sh)"/>
<g clip-path="url(#c_int)" fill="none" stroke-width="2.2" stroke-linejoin="round"><use href="#a_int" transform="translate(0.9 1)" stroke="#fff" stroke-opacity="0.38"/><use href="#a_int" transform="translate(-0.9 -1)" stroke="#000" stroke-opacity="0.22"/></g>
<g clip-path="url(#clipIn)"><path d="M408.1 143.2 L693.8 417.2 L642.5 470.6 L357.2 196.8Z" fill="#0c1c2c" opacity="0.55" filter="url(#blur6)"/></g>
<path d="M408.1 143.2 L693.8 417.2 L642.5 470.6 L357.2 196.8Z" fill="url(#gBand)"/>
<use href="#a_plan" fill="url(#g_plan)" stroke="#6e5c3c" stroke-width="0.9" stroke-linejoin="round" filter="url(#sh)"/>
<g clip-path="url(#c_plan)" fill="none" stroke-width="2.2" stroke-linejoin="round"><use href="#a_plan" transform="translate(0.9 1)" stroke="#fff" stroke-opacity="0.38"/><use href="#a_plan" transform="translate(-0.9 -1)" stroke="#000" stroke-opacity="0.22"/></g>
<use href="#a_build" fill="url(#g_build)" stroke="#8a3c38" stroke-width="0.9" stroke-linejoin="round" filter="url(#sh)"/>
<g clip-path="url(#c_build)" fill="none" stroke-width="2.2" stroke-linejoin="round"><use href="#a_build" transform="translate(0.9 1)" stroke="#fff" stroke-opacity="0.38"/><use href="#a_build" transform="translate(-0.9 -1)" stroke="#000" stroke-opacity="0.22"/></g>
<use href="#a_dep" fill="url(#g_dep)" stroke="#4c6410" stroke-width="0.9" stroke-linejoin="round" filter="url(#sh)"/>
<g clip-path="url(#c_dep)" fill="none" stroke-width="2.2" stroke-linejoin="round"><use href="#a_dep" transform="translate(0.9 1)" stroke="#fff" stroke-opacity="0.38"/><use href="#a_dep" transform="translate(-0.9 -1)" stroke="#000" stroke-opacity="0.22"/></g>
<use href="#a_op" fill="url(#g_op)" stroke="#2f6650" stroke-width="0.9" stroke-linejoin="round" filter="url(#sh)"/>
<g clip-path="url(#c_op)" fill="none" stroke-width="2.2" stroke-linejoin="round"><use href="#a_op" transform="translate(0.9 1)" stroke="#fff" stroke-opacity="0.38"/><use href="#a_op" transform="translate(-0.9 -1)" stroke="#000" stroke-opacity="0.22"/></g>
<use href="#a_fb" fill="url(#g_fb)" stroke="#2f6a12" stroke-width="0.9" stroke-linejoin="round" filter="url(#sh)"/>
<g clip-path="url(#c_fb)" fill="none" stroke-width="2.2" stroke-linejoin="round"><use href="#a_fb" transform="translate(0.9 1)" stroke="#fff" stroke-opacity="0.38"/><use href="#a_fb" transform="translate(-0.9 -1)" stroke="#000" stroke-opacity="0.22"/></g>
<linearGradient id="gTip" gradientUnits="userSpaceOnUse" x1="690.8" y1="460.6" x2="642.8" y2="425.4"><stop offset="0" stop-color="#e6f2ec" stop-opacity="0"/><stop offset="0.45" stop-color="#e6f2ec" stop-opacity="0.45"/><stop offset="1" stop-color="#eef6f2" stop-opacity="0.9"/></linearGradient>
<path d="M685 467.6 L669 460.6 L664.3 472.7 L642.8 425.4 L697.1 437.2 L684.6 444.6 L698.6 453.6Z" fill="url(#gTip)"/>
<path d="M242.4 390.1Q242.3 391 244.5 391.6L250.2 393.5Q252.1 394.1 251.8 396L250.6 400.5Q250.1 402.3 248 401.9L242.1 400.8Q239.9 400.3 239.6 401.1A46.6 46.6 0 0 1 238.3 404.1L238.3 404.1Q237.9 404.9 239.8 406.2L244.7 409.7Q246.3 410.9 245.4 412.6L242.9 416.5Q241.8 418 240 417.1L234.7 414.2Q232.8 413 232.2 413.7A46.6 46.6 0 0 1 230.1 416.1L230.1 416.1Q229.5 416.8 230.9 418.6L234.4 423.4Q235.6 425.1 234.2 426.4L230.7 429.3Q229.2 430.5 227.7 429L223.6 424.6Q222.1 422.9 221.3 423.4A46.6 46.6 0 0 1 218.6 425L218.6 425Q217.8 425.5 218.6 427.6L220.4 433.3Q221 435.3 219.3 436.1L215 437.8Q213.3 438.4 212.3 436.5L209.8 431.1Q208.9 429 208 429.3A46.6 46.6 0 0 1 204.9 430L204.9 430Q204 430.1 204.1 432.4L204.1 438.4Q204 440.5 202.2 440.7L197.6 441Q195.7 441 195.4 438.9L194.6 433Q194.4 430.7 193.5 430.7A46.6 46.6 0 0 1 190.3 430.4L190.3 430.4Q189.4 430.3 188.8 432.5L186.9 438.2Q186.3 440.1 184.4 439.8L179.9 438.6Q178.1 438.1 178.5 436L179.6 430.1Q180.1 427.9 179.3 427.6A46.6 46.6 0 0 1 176.3 426.3L176.3 426.3Q175.5 425.9 174.2 427.8L170.7 432.7Q169.5 434.3 167.8 433.4L163.9 430.9Q162.4 429.8 163.3 428L166.2 422.7Q167.4 420.8 166.7 420.2A46.6 46.6 0 0 1 164.3 418.1L164.3 418.1Q163.6 417.5 161.8 418.9L157 422.4Q155.3 423.6 154 422.2L151.1 418.7Q149.9 417.2 151.4 415.7L155.8 411.6Q157.5 410.1 157 409.3A46.6 46.6 0 0 1 155.4 406.6L155.4 406.6Q154.9 405.8 152.8 406.6L147.1 408.4Q145.1 409 144.3 407.3L142.6 403Q142 401.3 143.9 400.3L149.3 397.8Q151.4 396.9 151.1 396A46.6 46.6 0 0 1 150.4 392.9L150.4 392.9Q150.3 392 148 392.1L142 392.1Q139.9 392 139.7 390.2L139.4 385.6Q139.4 383.7 141.5 383.4L147.4 382.6Q149.7 382.4 149.7 381.5A46.6 46.6 0 0 1 150 378.3L150 378.3Q150.1 377.4 147.9 376.8L142.2 374.9Q140.3 374.3 140.6 372.4L141.8 367.9Q142.3 366.1 144.4 366.5L150.3 367.6Q152.5 368.1 152.8 367.3A46.6 46.6 0 0 1 154.1 364.3L154.1 364.3Q154.5 363.5 152.6 362.2L147.7 358.7Q146.1 357.5 147 355.8L149.5 351.9Q150.6 350.4 152.4 351.3L157.7 354.2Q159.6 355.4 160.2 354.7A46.6 46.6 0 0 1 162.3 352.3L162.3 352.3Q162.9 351.6 161.5 349.8L158 345Q156.8 343.3 158.2 342L161.7 339.1Q163.2 337.9 164.7 339.4L168.8 343.8Q170.3 345.5 171.1 345A46.6 46.6 0 0 1 173.8 343.4L173.8 343.4Q174.6 342.9 173.8 340.8L172 335.1Q171.4 333.1 173.1 332.3L177.4 330.6Q179.1 330 180.1 331.9L182.6 337.3Q183.5 339.4 184.4 339.1A46.6 46.6 0 0 1 187.5 338.4L187.5 338.4Q188.4 338.3 188.3 336L188.3 330Q188.4 327.9 190.2 327.7L194.8 327.4Q196.7 327.4 197 329.5L197.8 335.4Q198 337.7 198.9 337.7A46.6 46.6 0 0 1 202.1 338L202.1 338Q203 338.1 203.6 335.9L205.5 330.2Q206.1 328.3 208 328.6L212.5 329.8Q214.3 330.3 213.9 332.4L212.8 338.3Q212.3 340.5 213.1 340.8A46.6 46.6 0 0 1 216.1 342.1L216.1 342.1Q216.9 342.5 218.2 340.6L221.7 335.7Q222.9 334.1 224.6 335L228.5 337.5Q230 338.6 229.1 340.4L226.2 345.7Q225 347.6 225.7 348.2A46.6 46.6 0 0 1 228.1 350.3L228.1 350.3Q228.8 350.9 230.6 349.5L235.4 346Q237.1 344.8 238.4 346.2L241.3 349.7Q242.5 351.2 241 352.7L236.6 356.8Q234.9 358.3 235.4 359.1A46.6 46.6 0 0 1 237 361.8L237 361.8Q237.5 362.6 239.6 361.8L245.3 360Q247.3 359.4 248.1 361.1L249.8 365.4Q250.4 367.1 248.5 368.1L243.1 370.6Q241 371.5 241.3 372.4A46.6 46.6 0 0 1 242 375.5L242 375.5Q242.1 376.4 244.4 376.3L250.4 376.3Q252.5 376.4 252.7 378.2L253 382.8Q253 384.7 250.9 385L245 385.8Q242.7 386 242.7 386.9A46.6 46.6 0 0 1 242.4 390.1Z" fill="url(#gGear)" stroke="#33281a" stroke-width="1.05" stroke-linejoin="round"/>
<circle cx="196.2" cy="384.2" r="31.2" fill="#fff" stroke="#2e2618" stroke-width="1.2"/>
<path d="M308.9 304.9Q308.9 305.7 310.9 306.1L316.4 307.3Q318.2 307.8 318 309.5L317.4 313.7Q317 315.4 315.1 315.3L309.6 314.7Q307.5 314.5 307.3 315.3A43 43 0 0 1 306.4 318.1L306.4 318.1Q306.1 318.9 307.9 319.9L312.7 322.7Q314.3 323.7 313.6 325.3L311.7 329.1Q310.8 330.6 309 329.9L303.9 327.7Q302 326.8 301.6 327.5A43 43 0 0 1 299.8 329.9L299.8 329.9Q299.3 330.5 300.8 332.1L304.4 336.2Q305.7 337.7 304.5 339L301.5 342Q300.2 343.2 298.7 341.9L294.6 338.3Q293 336.8 292.4 337.3A43 43 0 0 1 290 339.1L290 339.1Q289.3 339.5 290.2 341.4L292.4 346.5Q293.1 348.3 291.6 349.2L287.8 351.1Q286.2 351.8 285.2 350.2L282.4 345.4Q281.4 343.6 280.6 343.9A43 43 0 0 1 277.8 344.8L277.8 344.8Q277 345 277.2 347.1L277.8 352.6Q277.9 354.5 276.2 354.9L272 355.5Q270.3 355.7 269.8 353.9L268.6 348.4Q268.2 346.4 267.4 346.4A43 43 0 0 1 264.4 346.4L264.4 346.4Q263.6 346.4 263.2 348.4L262 353.9Q261.5 355.7 259.8 355.5L255.6 354.9Q253.9 354.5 254 352.6L254.6 347.1Q254.8 345 254 344.8A43 43 0 0 1 251.2 343.9L251.2 343.9Q250.4 343.6 249.4 345.4L246.6 350.2Q245.6 351.8 244 351.1L240.2 349.2Q238.7 348.3 239.4 346.5L241.6 341.4Q242.5 339.5 241.8 339.1A43 43 0 0 1 239.4 337.3L239.4 337.3Q238.8 336.8 237.2 338.3L233.1 341.9Q231.6 343.2 230.3 342L227.3 339Q226.1 337.7 227.4 336.2L231 332.1Q232.5 330.5 232 329.9A43 43 0 0 1 230.2 327.5L230.2 327.5Q229.8 326.8 227.9 327.7L222.8 329.9Q221 330.6 220.1 329.1L218.2 325.3Q217.5 323.7 219.1 322.7L223.9 319.9Q225.7 318.9 225.4 318.1A43 43 0 0 1 224.5 315.3L224.5 315.3Q224.3 314.5 222.2 314.7L216.7 315.3Q214.8 315.4 214.4 313.7L213.8 309.5Q213.6 307.8 215.4 307.3L220.9 306.1Q222.9 305.7 222.9 304.9A43 43 0 0 1 222.9 301.9L222.9 301.9Q222.9 301.1 220.9 300.7L215.4 299.5Q213.6 299 213.8 297.3L214.4 293.1Q214.8 291.4 216.7 291.5L222.2 292.1Q224.3 292.3 224.5 291.5A43 43 0 0 1 225.4 288.7L225.4 288.7Q225.7 287.9 223.9 286.9L219.1 284.1Q217.5 283.1 218.2 281.5L220.1 277.7Q221 276.2 222.8 276.9L227.9 279.1Q229.8 280 230.2 279.3A43 43 0 0 1 232 276.9L232 276.9Q232.5 276.3 231 274.7L227.4 270.6Q226.1 269.1 227.3 267.8L230.3 264.8Q231.6 263.6 233.1 264.9L237.2 268.5Q238.8 270 239.4 269.5A43 43 0 0 1 241.8 267.7L241.8 267.7Q242.5 267.3 241.6 265.4L239.4 260.3Q238.7 258.5 240.2 257.6L244 255.7Q245.6 255 246.6 256.6L249.4 261.4Q250.4 263.2 251.2 262.9A43 43 0 0 1 254 262L254 262Q254.8 261.8 254.6 259.7L254 254.2Q253.9 252.3 255.6 251.9L259.8 251.3Q261.5 251.1 262 252.9L263.2 258.4Q263.6 260.4 264.4 260.4A43 43 0 0 1 267.4 260.4L267.4 260.4Q268.2 260.4 268.6 258.4L269.8 252.9Q270.3 251.1 272 251.3L276.2 251.9Q277.9 252.3 277.8 254.2L277.2 259.7Q277 261.8 277.8 262A43 43 0 0 1 280.6 262.9L280.6 262.9Q281.4 263.2 282.4 261.4L285.2 256.6Q286.2 255 287.8 255.7L291.6 257.6Q293.1 258.5 292.4 260.3L290.2 265.4Q289.3 267.3 290 267.7A43 43 0 0 1 292.4 269.5L292.4 269.5Q293 270 294.6 268.5L298.7 264.9Q300.2 263.6 301.5 264.8L304.5 267.8Q305.7 269.1 304.4 270.6L300.8 274.7Q299.3 276.3 299.8 276.9A43 43 0 0 1 301.6 279.3L301.6 279.3Q302 280 303.9 279.1L309 276.9Q310.8 276.2 311.7 277.7L313.6 281.5Q314.3 283.1 312.7 284.1L307.9 286.9Q306.1 287.9 306.4 288.7A43 43 0 0 1 307.3 291.5L307.3 291.5Q307.5 292.3 309.6 292.1L315.1 291.5Q317 291.4 317.4 293.1L318 297.3Q318.2 299 316.4 299.5L310.9 300.7Q308.9 301.1 308.9 301.9A43 43 0 0 1 308.9 304.9Z" fill="url(#gGear)" stroke="#33281a" stroke-width="1.05" stroke-linejoin="round"/>
<circle cx="265.9" cy="303.4" r="28.9" fill="#fff" stroke="#2e2618" stroke-width="1.2"/>
<path d="M324.6 212.7Q324.5 213.4 326.3 214L331 215.5Q332.7 216.1 332.4 217.6L331.4 221.3Q331 222.8 329.3 222.5L324.4 221.6Q322.5 221.2 322.3 221.9A38.7 38.7 0 0 1 321.2 224.3L321.2 224.3Q320.9 225 322.4 226.1L326.5 229Q327.8 230 327.1 231.4L325 234.6Q324.1 235.9 322.6 235.1L318.2 232.7Q316.6 231.8 316.1 232.3A38.7 38.7 0 0 1 314.4 234.3L314.4 234.3Q313.9 234.9 315 236.4L318 240.4Q318.9 241.8 317.8 242.9L314.9 245.3Q313.6 246.2 312.4 245L309 241.4Q307.7 240 307.1 240.4A38.7 38.7 0 0 1 304.8 241.7L304.8 241.7Q304.2 242.1 304.8 243.9L306.3 248.6Q306.8 250.2 305.4 250.9L301.9 252.3Q300.4 252.8 299.6 251.3L297.5 246.8Q296.7 245 296 245.2A38.7 38.7 0 0 1 293.4 245.8L293.4 245.8Q292.7 246 292.7 247.8L292.7 252.8Q292.7 254.5 291.2 254.7L287.3 255Q285.8 255 285.5 253.3L284.9 248.4Q284.7 246.5 284 246.4A38.7 38.7 0 0 1 281.3 246.2L281.3 246.2Q280.6 246.1 280 247.9L278.5 252.6Q277.9 254.3 276.4 254L272.7 253Q271.2 252.6 271.5 250.9L272.4 246Q272.8 244.1 272.1 243.9A38.7 38.7 0 0 1 269.7 242.8L269.7 242.8Q269 242.5 267.9 244L265 248.1Q264 249.4 262.6 248.7L259.4 246.6Q258.1 245.7 258.9 244.2L261.3 239.8Q262.2 238.2 261.7 237.7A38.7 38.7 0 0 1 259.7 236L259.7 236Q259.1 235.5 257.6 236.6L253.6 239.6Q252.2 240.5 251.1 239.4L248.7 236.5Q247.8 235.2 249 234L252.6 230.6Q254 229.3 253.6 228.7A38.7 38.7 0 0 1 252.3 226.4L252.3 226.4Q251.9 225.8 250.1 226.4L245.4 227.9Q243.8 228.4 243.1 227L241.7 223.5Q241.2 222 242.7 221.2L247.2 219.1Q249 218.3 248.8 217.6A38.7 38.7 0 0 1 248.2 215L248.2 215Q248 214.3 246.2 214.3L241.2 214.3Q239.5 214.3 239.3 212.8L239 208.9Q239 207.4 240.7 207.1L245.6 206.5Q247.5 206.3 247.6 205.6A38.7 38.7 0 0 1 247.8 202.9L247.8 202.9Q247.9 202.2 246.1 201.6L241.4 200.1Q239.7 199.5 240 198L241 194.3Q241.4 192.8 243.1 193.1L248 194Q249.9 194.4 250.1 193.7A38.7 38.7 0 0 1 251.2 191.3L251.2 191.3Q251.5 190.6 250 189.5L245.9 186.6Q244.6 185.6 245.3 184.2L247.4 181Q248.3 179.7 249.8 180.5L254.2 182.9Q255.8 183.8 256.3 183.3A38.7 38.7 0 0 1 258 181.3L258 181.3Q258.5 180.7 257.4 179.2L254.4 175.2Q253.5 173.8 254.6 172.7L257.5 170.3Q258.8 169.4 260 170.6L263.4 174.2Q264.7 175.6 265.3 175.2A38.7 38.7 0 0 1 267.6 173.9L267.6 173.9Q268.2 173.5 267.6 171.7L266.1 167Q265.6 165.4 267 164.7L270.5 163.3Q272 162.8 272.8 164.3L274.9 168.8Q275.7 170.6 276.4 170.4A38.7 38.7 0 0 1 279 169.8L279 169.8Q279.7 169.6 279.7 167.8L279.7 162.8Q279.7 161.1 281.2 160.9L285.1 160.6Q286.6 160.6 286.9 162.3L287.5 167.2Q287.7 169.1 288.4 169.2A38.7 38.7 0 0 1 291.1 169.4L291.1 169.4Q291.8 169.5 292.4 167.7L293.9 163Q294.5 161.3 296 161.6L299.7 162.6Q301.2 163 300.9 164.7L300 169.6Q299.6 171.5 300.3 171.7A38.7 38.7 0 0 1 302.7 172.8L302.7 172.8Q303.4 173.1 304.5 171.6L307.4 167.5Q308.4 166.2 309.8 166.9L313 169Q314.3 169.9 313.5 171.4L311.1 175.8Q310.2 177.4 310.7 177.9A38.7 38.7 0 0 1 312.7 179.6L312.7 179.6Q313.3 180.1 314.8 179L318.8 176Q320.2 175.1 321.3 176.2L323.7 179.1Q324.6 180.4 323.4 181.6L319.8 185Q318.4 186.3 318.8 186.9A38.7 38.7 0 0 1 320.1 189.2L320.1 189.2Q320.5 189.8 322.3 189.2L327 187.7Q328.6 187.2 329.3 188.6L330.7 192.1Q331.2 193.6 329.7 194.4L325.2 196.5Q323.4 197.3 323.6 198A38.7 38.7 0 0 1 324.2 200.6L324.2 200.6Q324.4 201.3 326.2 201.3L331.2 201.3Q332.9 201.3 333.1 202.8L333.4 206.7Q333.4 208.2 331.7 208.5L326.8 209.1Q324.9 209.3 324.8 210A38.7 38.7 0 0 1 324.6 212.7Z" fill="url(#gGear)" stroke="#33281a" stroke-width="1.05" stroke-linejoin="round"/>
<circle cx="286.2" cy="207.8" r="26" fill="#fff" stroke="#2e2618" stroke-width="1.2"/>
<path d="M443.9 306Q443.8 306.7 445.6 307L450.2 308Q451.8 308.3 451.7 309.8L451.2 313.4Q450.9 314.8 449.3 314.8L444.6 314.4Q442.8 314.2 442.6 314.9A36.6 36.6 0 0 1 441.9 317.3L441.9 317.3Q441.7 317.9 443.2 318.8L447.3 321.1Q448.7 321.9 448.1 323.3L446.6 326.6Q445.8 327.9 444.3 327.3L440 325.5Q438.3 324.7 438 325.3A36.6 36.6 0 0 1 436.5 327.4L436.5 327.4Q436.1 327.9 437.3 329.2L440.5 332.7Q441.6 333.9 440.6 335.1L438.1 337.7Q437 338.7 435.7 337.6L432.2 334.6Q430.8 333.4 430.3 333.8A36.6 36.6 0 0 1 428.3 335.4L428.3 335.4Q427.7 335.7 428.5 337.3L430.4 341.6Q431.1 343.1 429.8 343.9L426.6 345.6Q425.3 346.2 424.4 344.8L421.9 340.8Q421 339.3 420.4 339.5A36.6 36.6 0 0 1 418 340.4L418 340.4Q417.3 340.6 417.6 342.3L418.1 347Q418.3 348.6 416.8 349L413.3 349.6Q411.8 349.8 411.4 348.2L410.3 343.6Q409.9 341.9 409.2 341.9A36.6 36.6 0 0 1 406.7 342L406.7 342Q406 341.9 405.7 343.7L404.7 348.3Q404.4 349.9 402.9 349.8L399.3 349.3Q397.9 349 397.9 347.4L398.3 342.7Q398.5 340.9 397.8 340.7A36.6 36.6 0 0 1 395.4 340L395.4 340Q394.8 339.8 393.9 341.3L391.6 345.4Q390.8 346.8 389.4 346.2L386.1 344.7Q384.8 343.9 385.4 342.4L387.2 338.1Q388 336.4 387.4 336.1A36.6 36.6 0 0 1 385.3 334.6L385.3 334.6Q384.8 334.2 383.5 335.4L380 338.6Q378.8 339.7 377.6 338.7L375 336.2Q374 335.1 375.1 333.8L378.1 330.3Q379.3 328.9 378.9 328.4A36.6 36.6 0 0 1 377.3 326.4L377.3 326.4Q377 325.8 375.4 326.6L371.1 328.5Q369.6 329.2 368.8 327.9L367.1 324.7Q366.5 323.4 367.9 322.5L371.9 320Q373.4 319.1 373.2 318.5A36.6 36.6 0 0 1 372.3 316.1L372.3 316.1Q372.1 315.4 370.4 315.7L365.7 316.2Q364.1 316.4 363.7 314.9L363.1 311.4Q362.9 309.9 364.5 309.5L369.1 308.4Q370.8 308 370.8 307.3A36.6 36.6 0 0 1 370.7 304.8L370.7 304.8Q370.8 304.1 369 303.8L364.4 302.8Q362.8 302.5 362.9 301L363.4 297.4Q363.7 296 365.3 296L370 296.4Q371.8 296.6 372 295.9A36.6 36.6 0 0 1 372.7 293.5L372.7 293.5Q372.9 292.9 371.4 292L367.3 289.7Q365.9 288.9 366.5 287.5L368 284.2Q368.8 282.9 370.3 283.5L374.6 285.3Q376.3 286.1 376.6 285.5A36.6 36.6 0 0 1 378.1 283.4L378.1 283.4Q378.5 282.9 377.3 281.6L374.1 278.1Q373 276.9 374 275.7L376.5 273.1Q377.6 272.1 378.9 273.2L382.4 276.2Q383.8 277.4 384.3 277A36.6 36.6 0 0 1 386.3 275.4L386.3 275.4Q386.9 275.1 386.1 273.5L384.2 269.2Q383.5 267.7 384.8 266.9L388 265.2Q389.3 264.6 390.2 266L392.7 270Q393.6 271.5 394.2 271.3A36.6 36.6 0 0 1 396.6 270.4L396.6 270.4Q397.3 270.2 397 268.5L396.5 263.8Q396.3 262.2 397.8 261.8L401.3 261.2Q402.8 261 403.2 262.6L404.3 267.2Q404.7 268.9 405.4 268.9A36.6 36.6 0 0 1 407.9 268.8L407.9 268.8Q408.6 268.9 408.9 267.1L409.9 262.5Q410.2 260.9 411.7 261L415.3 261.5Q416.7 261.8 416.7 263.4L416.3 268.1Q416.1 269.9 416.8 270.1A36.6 36.6 0 0 1 419.2 270.8L419.2 270.8Q419.8 271 420.7 269.5L423 265.4Q423.8 264 425.2 264.6L428.5 266.1Q429.8 266.9 429.2 268.4L427.4 272.7Q426.6 274.4 427.2 274.7A36.6 36.6 0 0 1 429.3 276.2L429.3 276.2Q429.8 276.6 431.1 275.4L434.6 272.2Q435.8 271.1 437 272.1L439.6 274.6Q440.6 275.7 439.5 277L436.5 280.5Q435.3 281.9 435.7 282.4A36.6 36.6 0 0 1 437.3 284.4L437.3 284.4Q437.6 285 439.2 284.2L443.5 282.3Q445 281.6 445.8 282.9L447.5 286.1Q448.1 287.4 446.7 288.3L442.7 290.8Q441.2 291.7 441.4 292.3A36.6 36.6 0 0 1 442.3 294.7L442.3 294.7Q442.5 295.4 444.2 295.1L448.9 294.6Q450.5 294.4 450.9 295.9L451.5 299.4Q451.7 300.9 450.1 301.3L445.5 302.4Q443.8 302.8 443.8 303.5A36.6 36.6 0 0 1 443.9 306Z" fill="url(#gGear)" stroke="#33281a" stroke-width="1.05" stroke-linejoin="round"/>
<circle cx="407.3" cy="305.4" r="24.5" fill="#fff" stroke="#2e2618" stroke-width="1.2"/>
<path d="M380.1 253Q380.1 253.5 381.5 253.8L385.2 254.5Q386.4 254.8 386.3 256L386 258.8Q385.7 260 384.4 259.9L380.7 259.6Q379.3 259.5 379.2 260A28.9 28.9 0 0 1 378.6 261.9L378.6 261.9Q378.4 262.4 379.7 263.1L382.9 264.9Q384 265.6 383.6 266.7L382.3 269.2Q381.8 270.3 380.6 269.8L377.1 268.4Q375.8 267.8 375.5 268.3A28.9 28.9 0 0 1 374.4 269.9L374.4 269.9Q374.1 270.4 375 271.4L377.6 274.1Q378.4 275.1 377.6 276L375.7 278Q374.8 278.8 373.8 278L371 275.6Q369.9 274.7 369.5 275A28.9 28.9 0 0 1 367.9 276.2L367.9 276.2Q367.4 276.6 368.1 277.8L369.6 281.2Q370.1 282.4 369.1 283L366.6 284.4Q365.5 284.9 364.8 283.8L362.9 280.6Q362.2 279.4 361.7 279.6A28.9 28.9 0 0 1 359.8 280.2L359.8 280.2Q359.2 280.4 359.4 281.8L359.9 285.5Q360 286.8 358.9 287.1L356 287.6Q354.9 287.7 354.5 286.5L353.7 282.8Q353.4 281.5 352.8 281.5A28.9 28.9 0 0 1 350.8 281.5L350.8 281.5Q350.3 281.5 350 282.9L349.3 286.6Q349 287.8 347.8 287.7L345 287.4Q343.8 287.1 343.9 285.8L344.2 282.1Q344.3 280.7 343.8 280.6A28.9 28.9 0 0 1 341.9 280L341.9 280Q341.4 279.8 340.7 281.1L338.9 284.3Q338.2 285.4 337.1 285L334.6 283.7Q333.5 283.2 334 282L335.4 278.5Q336 277.2 335.5 276.9A28.9 28.9 0 0 1 333.9 275.8L333.9 275.8Q333.4 275.5 332.4 276.4L329.7 279Q328.7 279.8 327.8 279L325.8 277.1Q325 276.2 325.8 275.2L328.2 272.4Q329.1 271.3 328.8 270.9A28.9 28.9 0 0 1 327.6 269.3L327.6 269.3Q327.2 268.8 326 269.5L322.6 271Q321.4 271.5 320.8 270.5L319.4 268Q318.9 266.9 320 266.2L323.2 264.3Q324.4 263.6 324.2 263.1A28.9 28.9 0 0 1 323.6 261.2L323.6 261.2Q323.4 260.6 322 260.8L318.3 261.3Q317 261.4 316.7 260.3L316.2 257.4Q316.1 256.3 317.3 255.9L321 255.1Q322.3 254.8 322.3 254.2A28.9 28.9 0 0 1 322.3 252.2L322.3 252.2Q322.3 251.7 320.9 251.4L317.2 250.7Q316 250.4 316.1 249.2L316.4 246.4Q316.7 245.2 318 245.3L321.7 245.6Q323.1 245.7 323.2 245.2A28.9 28.9 0 0 1 323.8 243.3L323.8 243.3Q324 242.8 322.7 242.1L319.5 240.3Q318.4 239.6 318.8 238.5L320.1 236Q320.6 234.9 321.8 235.4L325.3 236.8Q326.6 237.4 326.9 236.9A28.9 28.9 0 0 1 328 235.3L328 235.3Q328.3 234.8 327.4 233.8L324.8 231.1Q324 230.1 324.8 229.2L326.7 227.2Q327.6 226.4 328.6 227.2L331.4 229.6Q332.5 230.5 332.9 230.2A28.9 28.9 0 0 1 334.5 229L334.5 229Q335 228.6 334.3 227.4L332.8 224Q332.3 222.8 333.3 222.2L335.8 220.8Q336.9 220.3 337.6 221.4L339.5 224.6Q340.2 225.8 340.7 225.6A28.9 28.9 0 0 1 342.6 225L342.6 225Q343.2 224.8 343 223.4L342.5 219.7Q342.4 218.4 343.5 218.1L346.4 217.6Q347.5 217.5 347.9 218.7L348.7 222.4Q349 223.7 349.6 223.7A28.9 28.9 0 0 1 351.6 223.7L351.6 223.7Q352.1 223.7 352.4 222.3L353.1 218.6Q353.4 217.4 354.6 217.5L357.4 217.8Q358.6 218.1 358.5 219.4L358.2 223.1Q358.1 224.5 358.6 224.6A28.9 28.9 0 0 1 360.5 225.2L360.5 225.2Q361 225.4 361.7 224.1L363.5 220.9Q364.2 219.8 365.3 220.2L367.8 221.5Q368.9 222 368.4 223.2L367 226.7Q366.4 228 366.9 228.3A28.9 28.9 0 0 1 368.5 229.4L368.5 229.4Q369 229.7 370 228.8L372.7 226.2Q373.7 225.4 374.6 226.2L376.6 228.1Q377.4 229 376.6 230L374.2 232.8Q373.3 233.9 373.6 234.3A28.9 28.9 0 0 1 374.8 235.9L374.8 235.9Q375.2 236.4 376.4 235.7L379.8 234.2Q381 233.7 381.6 234.7L383 237.2Q383.5 238.3 382.4 239L379.2 240.9Q378 241.6 378.2 242.1A28.9 28.9 0 0 1 378.8 244L378.8 244Q379 244.6 380.4 244.4L384.1 243.9Q385.4 243.8 385.7 244.9L386.2 247.8Q386.3 248.9 385.1 249.3L381.4 250.1Q380.1 250.4 380.1 251A28.9 28.9 0 0 1 380.1 253Z" fill="url(#gGear)" stroke="#33281a" stroke-width="1.05" stroke-linejoin="round"/>
<circle cx="351.2" cy="252.6" r="19.4" fill="#fff" stroke="#2e2618" stroke-width="1.2"/>
<path d="M700.5 313.1Q700.5 313.9 702.4 314.3L707.4 315.5Q709.2 316 709 317.6L708.3 321.5Q707.9 323.1 706.2 322.9L701 322.4Q699.1 322.1 698.9 322.8A40.2 40.2 0 0 1 698 325.5L698 325.5Q697.7 326.2 699.4 327.1L703.8 329.8Q705.3 330.8 704.6 332.3L702.8 335.8Q701.9 337.2 700.3 336.5L695.6 334.4Q693.8 333.5 693.4 334.1A40.2 40.2 0 0 1 691.7 336.4L691.7 336.4Q691.2 337 692.6 338.4L695.9 342.3Q697.1 343.7 696 344.9L693.1 347.7Q691.9 348.8 690.5 347.6L686.7 344.1Q685.3 342.7 684.7 343.2A40.2 40.2 0 0 1 682.4 344.8L682.4 344.8Q681.8 345.2 682.6 347L684.6 351.8Q685.2 353.5 683.8 354.3L680.2 356Q678.7 356.6 677.8 355.1L675.2 350.6Q674.3 348.9 673.6 349.1A40.2 40.2 0 0 1 670.9 350L670.9 350Q670.2 350.2 670.4 352.1L670.8 357.3Q670.9 359.1 669.4 359.4L665.4 359.9Q663.8 360.1 663.4 358.3L662.3 353.3Q662 351.3 661.2 351.4A40.2 40.2 0 0 1 658.5 351.3L658.5 351.3Q657.7 351.3 657.3 353.2L656.1 358.2Q655.6 360 654 359.8L650.1 359.1Q648.5 358.7 648.7 357L649.2 351.8Q649.5 349.9 648.8 349.7A40.2 40.2 0 0 1 646.1 348.8L646.1 348.8Q645.4 348.5 644.5 350.2L641.8 354.6Q640.8 356.1 639.3 355.4L635.8 353.6Q634.4 352.7 635.1 351.1L637.2 346.4Q638.1 344.6 637.5 344.2A40.2 40.2 0 0 1 635.2 342.5L635.2 342.5Q634.6 342 633.2 343.4L629.3 346.7Q627.9 347.9 626.7 346.8L623.9 343.9Q622.8 342.7 624 341.3L627.5 337.5Q628.9 336.1 628.4 335.5A40.2 40.2 0 0 1 626.8 333.2L626.8 333.2Q626.4 332.6 624.6 333.4L619.8 335.4Q618.1 336 617.3 334.6L615.6 331Q615 329.5 616.5 328.6L621 326Q622.7 325.1 622.5 324.4A40.2 40.2 0 0 1 621.6 321.7L621.6 321.7Q621.4 321 619.5 321.2L614.3 321.6Q612.5 321.7 612.2 320.2L611.7 316.2Q611.5 314.6 613.3 314.2L618.3 313.1Q620.3 312.8 620.2 312A40.2 40.2 0 0 1 620.3 309.3L620.3 309.3Q620.3 308.5 618.4 308.1L613.4 306.9Q611.6 306.4 611.8 304.8L612.5 300.9Q612.9 299.3 614.6 299.5L619.8 300Q621.7 300.3 621.9 299.6A40.2 40.2 0 0 1 622.8 296.9L622.8 296.9Q623.1 296.2 621.4 295.3L617 292.6Q615.5 291.6 616.2 290.1L618 286.6Q618.9 285.2 620.5 285.9L625.2 288Q627 288.9 627.4 288.3A40.2 40.2 0 0 1 629.1 286L629.1 286Q629.6 285.4 628.2 284L624.9 280.1Q623.7 278.7 624.8 277.5L627.7 274.7Q628.9 273.6 630.3 274.8L634.1 278.3Q635.5 279.7 636.1 279.2A40.2 40.2 0 0 1 638.4 277.6L638.4 277.6Q639 277.2 638.2 275.4L636.2 270.6Q635.6 268.9 637 268.1L640.6 266.4Q642.1 265.8 643 267.3L645.6 271.8Q646.5 273.5 647.2 273.3A40.2 40.2 0 0 1 649.9 272.4L649.9 272.4Q650.6 272.2 650.4 270.3L650 265.1Q649.9 263.3 651.4 263L655.4 262.5Q657 262.3 657.4 264.1L658.5 269.1Q658.8 271.1 659.6 271A40.2 40.2 0 0 1 662.3 271.1L662.3 271.1Q663.1 271.1 663.5 269.2L664.7 264.2Q665.2 262.4 666.8 262.6L670.7 263.3Q672.3 263.7 672.1 265.4L671.6 270.6Q671.3 272.5 672 272.7A40.2 40.2 0 0 1 674.7 273.6L674.7 273.6Q675.4 273.9 676.3 272.2L679 267.8Q680 266.3 681.5 267L685 268.8Q686.4 269.7 685.7 271.3L683.6 276Q682.7 277.8 683.3 278.2A40.2 40.2 0 0 1 685.6 279.9L685.6 279.9Q686.2 280.4 687.6 279L691.5 275.7Q692.9 274.5 694.1 275.6L696.9 278.5Q698 279.7 696.8 281.1L693.3 284.9Q691.9 286.3 692.4 286.9A40.2 40.2 0 0 1 694 289.2L694 289.2Q694.4 289.8 696.2 289L701 287Q702.7 286.4 703.5 287.8L705.2 291.4Q705.8 292.9 704.3 293.8L699.8 296.4Q698.1 297.3 698.3 298A40.2 40.2 0 0 1 699.2 300.7L699.2 300.7Q699.4 301.4 701.3 301.2L706.5 300.8Q708.3 300.7 708.6 302.2L709.1 306.2Q709.3 307.8 707.5 308.2L702.5 309.3Q700.5 309.6 700.6 310.4A40.2 40.2 0 0 1 700.5 313.1Z" fill="url(#gGear)" stroke="#33281a" stroke-width="1.05" stroke-linejoin="round"/>
<circle cx="660.4" cy="311.2" r="27" fill="#fff" stroke="#2e2618" stroke-width="1.2"/>
<path d="M838.5 300.6Q838.5 301.4 840.5 301.8L845.8 302.9Q847.6 303.4 847.5 305.1L846.8 309.2Q846.4 310.9 844.6 310.8L839.1 310.2Q837.1 310 836.9 310.8A42.2 42.2 0 0 1 836 313.5L836 313.5Q835.7 314.3 837.5 315.3L842.2 318Q843.8 319 843.1 320.6L841.2 324.3Q840.3 325.8 838.6 325.1L833.6 322.9Q831.7 322.1 831.3 322.7A42.2 42.2 0 0 1 829.6 325.1L829.6 325.1Q829.1 325.7 830.5 327.2L834.1 331.3Q835.3 332.7 834.2 334L831.2 337Q829.9 338.1 828.5 336.9L824.4 333.3Q822.9 331.9 822.3 332.4A42.2 42.2 0 0 1 819.9 334.1L819.9 334.1Q819.3 334.5 820.1 336.4L822.3 341.4Q823 343.1 821.5 344L817.8 345.9Q816.2 346.6 815.2 345L812.5 340.3Q811.5 338.5 810.7 338.8A42.2 42.2 0 0 1 808 339.7L808 339.7Q807.2 339.9 807.4 341.9L808 347.4Q808.1 349.2 806.4 349.6L802.3 350.3Q800.6 350.4 800.1 348.6L799 343.3Q798.6 341.3 797.8 341.3A42.2 42.2 0 0 1 794.8 341.3L794.8 341.3Q794 341.3 793.6 343.3L792.5 348.6Q792 350.4 790.3 350.3L786.2 349.6Q784.5 349.2 784.6 347.4L785.2 341.9Q785.4 339.9 784.6 339.7A42.2 42.2 0 0 1 781.9 338.8L781.9 338.8Q781.1 338.5 780.1 340.3L777.4 345Q776.4 346.6 774.8 345.9L771.1 344Q769.6 343.1 770.3 341.4L772.5 336.4Q773.3 334.5 772.7 334.1A42.2 42.2 0 0 1 770.3 332.4L770.3 332.4Q769.7 331.9 768.2 333.3L764.1 336.9Q762.7 338.1 761.4 337L758.4 334Q757.3 332.7 758.5 331.3L762.1 327.2Q763.5 325.7 763 325.1A42.2 42.2 0 0 1 761.3 322.7L761.3 322.7Q760.9 322.1 759 322.9L754 325.1Q752.3 325.8 751.4 324.3L749.5 320.6Q748.8 319 750.4 318L755.1 315.3Q756.9 314.3 756.6 313.5A42.2 42.2 0 0 1 755.7 310.8L755.7 310.8Q755.5 310 753.5 310.2L748 310.8Q746.2 310.9 745.8 309.2L745.1 305.1Q745 303.4 746.8 302.9L752.1 301.8Q754.1 301.4 754.1 300.6A42.2 42.2 0 0 1 754.1 297.6L754.1 297.6Q754.1 296.8 752.1 296.4L746.8 295.3Q745 294.8 745.1 293.1L745.8 289Q746.2 287.3 748 287.4L753.5 288Q755.5 288.2 755.7 287.4A42.2 42.2 0 0 1 756.6 284.7L756.6 284.7Q756.9 283.9 755.1 282.9L750.4 280.2Q748.8 279.2 749.5 277.6L751.4 273.9Q752.3 272.4 754 273.1L759 275.3Q760.9 276.1 761.3 275.5A42.2 42.2 0 0 1 763 273.1L763 273.1Q763.5 272.5 762.1 271L758.5 266.9Q757.3 265.5 758.4 264.2L761.4 261.2Q762.7 260.1 764.1 261.3L768.2 264.9Q769.7 266.3 770.3 265.8A42.2 42.2 0 0 1 772.7 264.1L772.7 264.1Q773.3 263.7 772.5 261.8L770.3 256.8Q769.6 255.1 771.1 254.2L774.8 252.3Q776.4 251.6 777.4 253.2L780.1 257.9Q781.1 259.7 781.9 259.4A42.2 42.2 0 0 1 784.6 258.5L784.6 258.5Q785.4 258.3 785.2 256.3L784.6 250.8Q784.5 249 786.2 248.6L790.3 247.9Q792 247.8 792.5 249.6L793.6 254.9Q794 256.9 794.8 256.9A42.2 42.2 0 0 1 797.8 256.9L797.8 256.9Q798.6 256.9 799 254.9L800.1 249.6Q800.6 247.8 802.3 247.9L806.4 248.6Q808.1 249 808 250.8L807.4 256.3Q807.2 258.3 808 258.5A42.2 42.2 0 0 1 810.7 259.4L810.7 259.4Q811.5 259.7 812.5 257.9L815.2 253.2Q816.2 251.6 817.8 252.3L821.5 254.2Q823 255.1 822.3 256.8L820.1 261.8Q819.3 263.7 819.9 264.1A42.2 42.2 0 0 1 822.3 265.8L822.3 265.8Q822.9 266.3 824.4 264.9L828.5 261.3Q829.9 260.1 831.2 261.2L834.2 264.2Q835.3 265.5 834.1 266.9L830.5 271Q829.1 272.5 829.6 273.1A42.2 42.2 0 0 1 831.3 275.5L831.3 275.5Q831.7 276.1 833.6 275.3L838.6 273.1Q840.3 272.4 841.2 273.9L843.1 277.6Q843.8 279.2 842.2 280.2L837.5 282.9Q835.7 283.9 836 284.7A42.2 42.2 0 0 1 836.9 287.4L836.9 287.4Q837.1 288.2 839.1 288L844.6 287.4Q846.4 287.3 846.8 289L847.5 293.1Q847.6 294.8 845.8 295.3L840.5 296.4Q838.5 296.8 838.5 297.6A42.2 42.2 0 0 1 838.5 300.6Z" fill="url(#gGear)" stroke="#33281a" stroke-width="1.05" stroke-linejoin="round"/>
<circle cx="796.3" cy="299.1" r="28.3" fill="#fff" stroke="#2e2618" stroke-width="1.2"/>
<path d="M908.5 381.4Q908.5 382.2 910.7 382.7L916.4 384Q918.4 384.4 918.2 386.3L917.5 390.8Q917.1 392.6 915.1 392.4L909.2 391.9Q907 391.6 906.8 392.4A45.8 45.8 0 0 1 905.8 395.4L905.8 395.4Q905.5 396.2 907.4 397.3L912.5 400.3Q914.3 401.4 913.5 403.1L911.4 407.1Q910.5 408.7 908.6 408L903.2 405.6Q901.2 404.7 900.7 405.4A45.8 45.8 0 0 1 898.9 408L898.9 408Q898.3 408.6 899.8 410.3L903.7 414.7Q905.1 416.2 903.8 417.6L900.6 420.8Q899.2 422.1 897.7 420.7L893.3 416.8Q891.6 415.3 891 415.9A45.8 45.8 0 0 1 888.4 417.7L888.4 417.7Q887.7 418.2 888.6 420.2L891 425.6Q891.7 427.5 890.1 428.4L886.1 430.5Q884.4 431.3 883.3 429.5L880.3 424.4Q879.2 422.5 878.4 422.8A45.8 45.8 0 0 1 875.4 423.8L875.4 423.8Q874.6 424 874.9 426.2L875.4 432.1Q875.6 434.1 873.8 434.5L869.3 435.2Q867.4 435.4 867 433.4L865.7 427.7Q865.2 425.5 864.4 425.5A45.8 45.8 0 0 1 861.2 425.5L861.2 425.5Q860.4 425.5 859.9 427.7L858.6 433.4Q858.2 435.4 856.3 435.2L851.8 434.5Q850 434.1 850.2 432.1L850.7 426.2Q851 424 850.2 423.8A45.8 45.8 0 0 1 847.2 422.8L847.2 422.8Q846.4 422.5 845.3 424.4L842.3 429.5Q841.2 431.3 839.5 430.5L835.5 428.4Q833.9 427.5 834.6 425.6L837 420.2Q837.9 418.2 837.2 417.7A45.8 45.8 0 0 1 834.6 415.9L834.6 415.9Q834 415.3 832.3 416.8L827.9 420.7Q826.4 422.1 825 420.8L821.8 417.6Q820.5 416.2 821.9 414.7L825.8 410.3Q827.3 408.6 826.7 408A45.8 45.8 0 0 1 824.9 405.4L824.9 405.4Q824.4 404.7 822.4 405.6L817 408Q815.1 408.7 814.2 407.1L812.1 403.1Q811.3 401.4 813.1 400.3L818.2 397.3Q820.1 396.2 819.8 395.4A45.8 45.8 0 0 1 818.8 392.4L818.8 392.4Q818.6 391.6 816.4 391.9L810.5 392.4Q808.5 392.6 808.1 390.8L807.4 386.3Q807.2 384.4 809.2 384L814.9 382.7Q817.1 382.2 817.1 381.4A45.8 45.8 0 0 1 817.1 378.2L817.1 378.2Q817.1 377.4 814.9 376.9L809.2 375.6Q807.2 375.2 807.4 373.3L808.1 368.8Q808.5 367 810.5 367.2L816.4 367.7Q818.6 368 818.8 367.2A45.8 45.8 0 0 1 819.8 364.2L819.8 364.2Q820.1 363.4 818.2 362.3L813.1 359.3Q811.3 358.2 812.1 356.5L814.2 352.5Q815.1 350.9 817 351.6L822.4 354Q824.4 354.9 824.9 354.2A45.8 45.8 0 0 1 826.7 351.6L826.7 351.6Q827.3 351 825.8 349.3L821.9 344.9Q820.5 343.4 821.8 342L825 338.8Q826.4 337.5 827.9 338.9L832.3 342.8Q834 344.3 834.6 343.7A45.8 45.8 0 0 1 837.2 341.9L837.2 341.9Q837.9 341.4 837 339.4L834.6 334Q833.9 332.1 835.5 331.2L839.5 329.1Q841.2 328.3 842.3 330.1L845.3 335.2Q846.4 337.1 847.2 336.8A45.8 45.8 0 0 1 850.2 335.8L850.2 335.8Q851 335.6 850.7 333.4L850.2 327.5Q850 325.5 851.8 325.1L856.3 324.4Q858.2 324.2 858.6 326.2L859.9 331.9Q860.4 334.1 861.2 334.1A45.8 45.8 0 0 1 864.4 334.1L864.4 334.1Q865.2 334.1 865.7 331.9L867 326.2Q867.4 324.2 869.3 324.4L873.8 325.1Q875.6 325.5 875.4 327.5L874.9 333.4Q874.6 335.6 875.4 335.8A45.8 45.8 0 0 1 878.4 336.8L878.4 336.8Q879.2 337.1 880.3 335.2L883.3 330.1Q884.4 328.3 886.1 329.1L890.1 331.2Q891.7 332.1 891 334L888.6 339.4Q887.7 341.4 888.4 341.9A45.8 45.8 0 0 1 891 343.7L891 343.7Q891.6 344.3 893.3 342.8L897.7 338.9Q899.2 337.5 900.6 338.8L903.8 342Q905.1 343.4 903.7 344.9L899.8 349.3Q898.3 351 898.9 351.6A45.8 45.8 0 0 1 900.7 354.2L900.7 354.2Q901.2 354.9 903.2 354L908.6 351.6Q910.5 350.9 911.4 352.5L913.5 356.5Q914.3 358.2 912.5 359.3L907.4 362.3Q905.5 363.4 905.8 364.2A45.8 45.8 0 0 1 906.8 367.2L906.8 367.2Q907 368 909.2 367.7L915.1 367.2Q917.1 367 917.5 368.8L918.2 373.3Q918.4 375.2 916.4 375.6L910.7 376.9Q908.5 377.4 908.5 378.2A45.8 45.8 0 0 1 908.5 381.4Z" fill="url(#gGear)" stroke="#33281a" stroke-width="1.05" stroke-linejoin="round"/>
<circle cx="862.8" cy="379.8" r="30.7" fill="#fff" stroke="#2e2618" stroke-width="1.2"/>
<path d="M816.1 202.2Q816.1 202.9 818 203.1L822.9 203.6Q824.6 203.9 824.6 205.4L824.4 209.2Q824.3 210.7 822.6 210.8L817.6 210.9Q815.7 210.9 815.6 211.6A38.4 38.4 0 0 1 815.1 214.2L815.1 214.2Q814.9 214.9 816.6 215.6L821.1 217.6Q822.7 218.4 822.2 219.9L820.9 223.4Q820.2 224.8 818.6 224.4L813.9 222.9Q812.1 222.3 811.8 223A38.4 38.4 0 0 1 810.5 225.3L810.5 225.3Q810.1 225.9 811.5 227.1L815.1 230.4Q816.4 231.6 815.5 232.9L813.1 235.8Q812.1 237 810.6 236L806.6 233.2Q805.1 232.1 804.6 232.6A38.4 38.4 0 0 1 802.6 234.4L802.6 234.4Q802.1 234.8 803 236.4L805.5 240.7Q806.3 242.2 805.1 243.1L801.9 245.2Q800.5 246 799.5 244.7L796.5 240.7Q795.4 239.2 794.8 239.5A38.4 38.4 0 0 1 792.4 240.6L792.4 240.6Q791.7 240.9 792.1 242.7L793.1 247.5Q793.4 249.2 792 249.7L788.3 250.7Q786.8 251 786.2 249.4L784.6 244.7Q784 243 783.3 243.1A38.4 38.4 0 0 1 780.7 243.4L780.7 243.4Q780 243.4 779.8 245.3L779.3 250.2Q779 251.9 777.5 251.9L773.7 251.7Q772.2 251.6 772.1 249.9L772 244.9Q772 243 771.3 242.9A38.4 38.4 0 0 1 768.7 242.4L768.7 242.4Q768 242.2 767.3 243.9L765.3 248.4Q764.5 250 763 249.5L759.5 248.2Q758.1 247.5 758.5 245.9L760 241.2Q760.6 239.4 759.9 239.1A38.4 38.4 0 0 1 757.6 237.8L757.6 237.8Q757 237.4 755.8 238.8L752.5 242.4Q751.3 243.7 750 242.8L747.1 240.4Q745.9 239.4 746.9 237.9L749.7 233.9Q750.8 232.4 750.3 231.9A38.4 38.4 0 0 1 748.5 229.9L748.5 229.9Q748.1 229.4 746.5 230.3L742.2 232.8Q740.7 233.6 739.8 232.4L737.7 229.2Q736.9 227.8 738.2 226.8L742.2 223.8Q743.7 222.7 743.4 222.1A38.4 38.4 0 0 1 742.3 219.7L742.3 219.7Q742 219 740.2 219.4L735.4 220.4Q733.7 220.7 733.2 219.3L732.2 215.6Q731.9 214.1 733.5 213.5L738.2 211.9Q739.9 211.3 739.8 210.6A38.4 38.4 0 0 1 739.5 208L739.5 208Q739.5 207.3 737.6 207.1L732.7 206.6Q731 206.3 731 204.8L731.2 201Q731.3 199.5 733 199.4L738 199.3Q739.9 199.3 740 198.6A38.4 38.4 0 0 1 740.5 196L740.5 196Q740.7 195.3 739 194.6L734.5 192.6Q732.9 191.8 733.4 190.3L734.7 186.8Q735.4 185.4 737 185.8L741.7 187.3Q743.5 187.9 743.8 187.2A38.4 38.4 0 0 1 745.1 184.9L745.1 184.9Q745.5 184.3 744.1 183.1L740.5 179.8Q739.2 178.6 740.1 177.3L742.5 174.4Q743.5 173.2 745 174.2L749 177Q750.5 178.1 751 177.6A38.4 38.4 0 0 1 753 175.8L753 175.8Q753.5 175.4 752.6 173.8L750.1 169.5Q749.3 168 750.5 167.1L753.7 165Q755.1 164.2 756.1 165.5L759.1 169.5Q760.2 171 760.8 170.7A38.4 38.4 0 0 1 763.2 169.6L763.2 169.6Q763.9 169.3 763.5 167.5L762.5 162.7Q762.2 161 763.6 160.5L767.3 159.5Q768.8 159.2 769.4 160.8L771 165.5Q771.6 167.2 772.3 167.1A38.4 38.4 0 0 1 774.9 166.8L774.9 166.8Q775.6 166.8 775.8 164.9L776.3 160Q776.6 158.3 778.1 158.3L781.9 158.5Q783.4 158.6 783.5 160.3L783.6 165.3Q783.6 167.2 784.3 167.3A38.4 38.4 0 0 1 786.9 167.8L786.9 167.8Q787.6 168 788.3 166.3L790.3 161.8Q791.1 160.2 792.6 160.7L796.1 162Q797.5 162.7 797.1 164.3L795.6 169Q795 170.8 795.7 171.1A38.4 38.4 0 0 1 798 172.4L798 172.4Q798.6 172.8 799.8 171.4L803.1 167.8Q804.3 166.5 805.6 167.4L808.5 169.8Q809.7 170.8 808.7 172.3L805.9 176.3Q804.8 177.8 805.3 178.3A38.4 38.4 0 0 1 807.1 180.3L807.1 180.3Q807.5 180.8 809.1 179.9L813.4 177.4Q814.9 176.6 815.8 177.8L817.9 181Q818.7 182.4 817.4 183.4L813.4 186.4Q811.9 187.5 812.2 188.1A38.4 38.4 0 0 1 813.3 190.5L813.3 190.5Q813.6 191.2 815.4 190.8L820.2 189.8Q821.9 189.5 822.4 190.9L823.4 194.6Q823.7 196.1 822.1 196.7L817.4 198.3Q815.7 198.9 815.8 199.6A38.4 38.4 0 0 1 816.1 202.2Z" fill="url(#gGear)" stroke="#33281a" stroke-width="1.05" stroke-linejoin="round"/>
<circle cx="777.8" cy="205.1" r="25.7" fill="#fff" stroke="#2e2618" stroke-width="1.2"/>
<path d="M740.8 249.1Q740.8 249.7 742.2 249.9L745.8 250.7Q747.1 251.1 747 252.2L746.5 255.1Q746.3 256.2 745 256.1L741.2 255.8Q739.8 255.6 739.7 256.1A29.1 29.1 0 0 1 739.1 258L739.1 258Q738.9 258.6 740.1 259.3L743.3 261.2Q744.4 261.8 744 262.9L742.7 265.5Q742.1 266.5 740.9 266L737.4 264.5Q736.1 263.9 735.8 264.4A29.1 29.1 0 0 1 734.6 266L734.6 266Q734.3 266.4 735.3 267.5L737.8 270.3Q738.6 271.3 737.8 272.2L735.8 274.2Q734.9 275 733.9 274.2L731.1 271.7Q730 270.7 729.6 271A29.1 29.1 0 0 1 728 272.2L728 272.2Q727.5 272.5 728.1 273.8L729.6 277.3Q730.1 278.5 729.1 279.1L726.5 280.4Q725.4 280.8 724.8 279.7L722.9 276.5Q722.2 275.3 721.6 275.5A29.1 29.1 0 0 1 719.7 276.1L719.7 276.1Q719.2 276.2 719.4 277.6L719.7 281.4Q719.8 282.7 718.7 282.9L715.8 283.4Q714.7 283.5 714.3 282.2L713.5 278.6Q713.3 277.2 712.7 277.2A29.1 29.1 0 0 1 710.7 277.2L710.7 277.2Q710.1 277.2 709.9 278.6L709.1 282.2Q708.7 283.5 707.6 283.4L704.7 282.9Q703.6 282.7 703.7 281.4L704 277.6Q704.2 276.2 703.7 276.1A29.1 29.1 0 0 1 701.8 275.5L701.8 275.5Q701.2 275.3 700.5 276.5L698.6 279.7Q698 280.8 696.9 280.4L694.3 279.1Q693.3 278.5 693.8 277.3L695.3 273.8Q695.9 272.5 695.4 272.2A29.1 29.1 0 0 1 693.8 271L693.8 271Q693.4 270.7 692.3 271.7L689.5 274.2Q688.5 275 687.6 274.2L685.6 272.2Q684.8 271.3 685.6 270.3L688.1 267.5Q689.1 266.4 688.8 266A29.1 29.1 0 0 1 687.6 264.4L687.6 264.4Q687.3 263.9 686 264.5L682.5 266Q681.3 266.5 680.7 265.5L679.4 262.9Q679 261.8 680.1 261.2L683.3 259.3Q684.5 258.6 684.3 258A29.1 29.1 0 0 1 683.7 256.1L683.7 256.1Q683.6 255.6 682.2 255.8L678.4 256.1Q677.1 256.2 676.9 255.1L676.4 252.2Q676.3 251.1 677.6 250.7L681.2 249.9Q682.6 249.7 682.6 249.1A29.1 29.1 0 0 1 682.6 247.1L682.6 247.1Q682.6 246.5 681.2 246.3L677.6 245.5Q676.3 245.1 676.4 244L676.9 241.1Q677.1 240 678.4 240.1L682.2 240.4Q683.6 240.6 683.7 240.1A29.1 29.1 0 0 1 684.3 238.2L684.3 238.2Q684.5 237.6 683.3 236.9L680.1 235Q679 234.4 679.4 233.3L680.7 230.7Q681.3 229.7 682.5 230.2L686 231.7Q687.3 232.3 687.6 231.8A29.1 29.1 0 0 1 688.8 230.2L688.8 230.2Q689.1 229.8 688.1 228.7L685.6 225.9Q684.8 224.9 685.6 224L687.6 222Q688.5 221.2 689.5 222L692.3 224.5Q693.4 225.5 693.8 225.2A29.1 29.1 0 0 1 695.4 224L695.4 224Q695.9 223.7 695.3 222.4L693.8 218.9Q693.3 217.7 694.3 217.1L696.9 215.8Q698 215.4 698.6 216.5L700.5 219.7Q701.2 220.9 701.8 220.7A29.1 29.1 0 0 1 703.7 220.1L703.7 220.1Q704.2 220 704 218.6L703.7 214.8Q703.6 213.5 704.7 213.3L707.6 212.8Q708.7 212.7 709.1 214L709.9 217.6Q710.1 219 710.7 219A29.1 29.1 0 0 1 712.7 219L712.7 219Q713.3 219 713.5 217.6L714.3 214Q714.7 212.7 715.8 212.8L718.7 213.3Q719.8 213.5 719.7 214.8L719.4 218.6Q719.2 220 719.7 220.1A29.1 29.1 0 0 1 721.6 220.7L721.6 220.7Q722.2 220.9 722.9 219.7L724.8 216.5Q725.4 215.4 726.5 215.8L729.1 217.1Q730.1 217.7 729.6 218.9L728.1 222.4Q727.5 223.7 728 224A29.1 29.1 0 0 1 729.6 225.2L729.6 225.2Q730 225.5 731.1 224.5L733.9 222Q734.9 221.2 735.8 222L737.8 224Q738.6 224.9 737.8 225.9L735.3 228.7Q734.3 229.8 734.6 230.2A29.1 29.1 0 0 1 735.8 231.8L735.8 231.8Q736.1 232.3 737.4 231.7L740.9 230.2Q742.1 229.7 742.7 230.7L744 233.3Q744.4 234.4 743.3 235L740.1 236.9Q738.9 237.6 739.1 238.2A29.1 29.1 0 0 1 739.7 240.1L739.7 240.1Q739.8 240.6 741.2 240.4L745 240.1Q746.3 240 746.5 241.1L747 244Q747.1 245.1 745.8 245.5L742.2 246.3Q740.8 246.5 740.8 247.1A29.1 29.1 0 0 1 740.8 249.1Z" fill="url(#gGear)" stroke="#33281a" stroke-width="1.05" stroke-linejoin="round"/>
<circle cx="711.7" cy="248.1" r="19.5" fill="#fff" stroke="#2e2618" stroke-width="1.2"/>
<g opacity="0.999" text-rendering="geometricPrecision">
<text font-size="25" fill="#ececea" stroke="#241e12" stroke-width="1.25" stroke-linejoin="round" filter="url(#tsh)"><textPath href="#t_plan" startOffset="50%" text-anchor="middle">Plan</textPath></text>
<text font-size="27" fill="#ececea" stroke="#2c1210" stroke-width="1.25" stroke-linejoin="round" filter="url(#tsh)"><textPath href="#t_build" startOffset="50%" text-anchor="middle">Build</textPath></text>
<text font-size="26.5" fill="#ececea" stroke="#182006" stroke-width="1.25" stroke-linejoin="round" filter="url(#tsh)"><textPath href="#t_dep" startOffset="50%" text-anchor="middle">Deploy</textPath></text>
<text font-size="31.5" fill="#ececea" stroke="#10261c" stroke-width="1.25" stroke-linejoin="round" filter="url(#tsh)"><textPath href="#t_op" startOffset="50%" text-anchor="middle">Operate</textPath></text>
<text font-size="30.5" fill="#ececea" stroke="#0a1c34" stroke-width="1.25" stroke-linejoin="round" filter="url(#tsh)"><textPath href="#t_cont" startOffset="50%" text-anchor="middle">Continuous</textPath></text>
<text font-size="26.3" fill="#ececea" stroke="#241604" style="font-weight:normal" stroke-width="2.3" paint-order="stroke" stroke-linejoin="round" filter="url(#tsh)"><textPath href="#t_int" startOffset="50%" text-anchor="middle">Integration</textPath></text>
<text font-size="26.5" fill="#ececea" stroke="#0e2406" stroke-width="1.25" stroke-linejoin="round" filter="url(#tsh)"><textPath href="#t_fb" startOffset="50%" text-anchor="middle">Continuous Feedback</textPath></text>
</g>
</svg></body></html>
